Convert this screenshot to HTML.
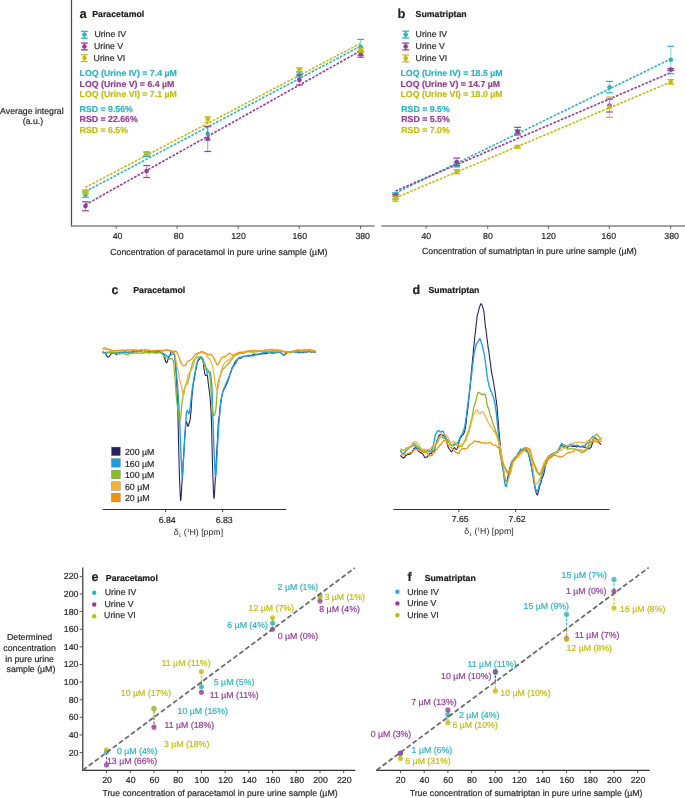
<!DOCTYPE html>
<html><head><meta charset="utf-8"><title>Figure</title>
<style>
html,body{margin:0;padding:0;background:#fff;}
body{width:685px;height:798px;overflow:hidden;}
svg{display:block;filter:blur(0.3px);}
text{font-family:"Liberation Sans", sans-serif;text-rendering:geometricPrecision;}
</style></head>
<body>
<svg width="685" height="798" viewBox="0 0 685 798">
<rect width="685" height="798" fill="#fff"/>
<line x1="71.50" y1="0.00" x2="71.50" y2="226.60" stroke="#4a4a4a" stroke-width="1.25"/>
<line x1="71.00" y1="226.00" x2="374.60" y2="226.00" stroke="#858585" stroke-width="1.45"/>
<line x1="116.20" y1="226.00" x2="116.20" y2="228.80" stroke="#5a5a5a" stroke-width="1.0"/>
<text x="117.60" y="239.00" font-size="8.75" fill="#2a2a2a" text-anchor="middle" stroke="#2a2a2a" stroke-width="0.2">40</text>
<line x1="177.10" y1="226.00" x2="177.10" y2="228.80" stroke="#5a5a5a" stroke-width="1.0"/>
<text x="178.70" y="239.00" font-size="8.75" fill="#2a2a2a" text-anchor="middle" stroke="#2a2a2a" stroke-width="0.2">80</text>
<line x1="238.20" y1="226.00" x2="238.20" y2="228.80" stroke="#5a5a5a" stroke-width="1.0"/>
<text x="238.50" y="239.00" font-size="8.75" fill="#2a2a2a" text-anchor="middle" stroke="#2a2a2a" stroke-width="0.2">120</text>
<line x1="299.20" y1="226.00" x2="299.20" y2="228.80" stroke="#5a5a5a" stroke-width="1.0"/>
<text x="299.80" y="239.00" font-size="8.75" fill="#2a2a2a" text-anchor="middle" stroke="#2a2a2a" stroke-width="0.2">160</text>
<line x1="360.60" y1="226.00" x2="360.60" y2="228.80" stroke="#5a5a5a" stroke-width="1.0"/>
<text x="362.70" y="239.00" font-size="8.75" fill="#2a2a2a" text-anchor="middle" stroke="#2a2a2a" stroke-width="0.2">380</text>
<text x="218.80" y="254.80" font-size="8.75" fill="#2a2a2a" text-anchor="middle" stroke="#2a2a2a" stroke-width="0.2">Concentration of paracetamol in pure urine sample (µM)</text>
<text x="31.90" y="113.50" font-size="8.75" fill="#2a2a2a" text-anchor="middle" stroke="#2a2a2a" stroke-width="0.2">Average integral</text>
<text x="33.00" y="123.90" font-size="8.75" fill="#2a2a2a" text-anchor="middle" stroke="#2a2a2a" stroke-width="0.2">(a.u.)</text>
<text x="79.40" y="18.00" font-size="13" fill="#222" font-weight="bold" stroke="#222" stroke-width="0.1">a</text>
<text x="92.20" y="16.90" font-size="8.75" fill="#222" font-weight="bold" stroke="#222" stroke-width="0.2">Paracetamol</text>
<line x1="81.00" y1="31.40" x2="87.80" y2="31.40" stroke="#2fb4bf" stroke-width="1.3"/>
<line x1="81.00" y1="38.20" x2="87.80" y2="38.20" stroke="#2fb4bf" stroke-width="1.3"/>
<line x1="84.40" y1="31.40" x2="84.40" y2="38.20" stroke="#2fb4bf" stroke-width="1.0"/>
<circle cx="84.40" cy="34.80" r="2.3" fill="#2fb4bf"/>
<text x="94.40" y="36.70" font-size="8.75" fill="#2a2a2a" stroke="#2a2a2a" stroke-width="0.2">Urine IV</text>
<line x1="81.00" y1="43.05" x2="87.80" y2="43.05" stroke="#983c98" stroke-width="1.3"/>
<line x1="81.00" y1="49.85" x2="87.80" y2="49.85" stroke="#983c98" stroke-width="1.3"/>
<line x1="84.40" y1="43.05" x2="84.40" y2="49.85" stroke="#983c98" stroke-width="1.0"/>
<circle cx="84.40" cy="46.45" r="2.3" fill="#983c98"/>
<text x="94.00" y="49.00" font-size="8.75" fill="#2a2a2a" stroke="#2a2a2a" stroke-width="0.2">Urine V</text>
<line x1="81.00" y1="54.70" x2="87.80" y2="54.70" stroke="#c3bd12" stroke-width="1.3"/>
<line x1="81.00" y1="61.50" x2="87.80" y2="61.50" stroke="#c3bd12" stroke-width="1.3"/>
<line x1="84.40" y1="54.70" x2="84.40" y2="61.50" stroke="#c3bd12" stroke-width="1.0"/>
<circle cx="84.40" cy="58.10" r="2.3" fill="#c3bd12"/>
<text x="93.60" y="60.90" font-size="8.75" fill="#2a2a2a" stroke="#2a2a2a" stroke-width="0.2">Urine VI</text>
<text x="79.60" y="76.30" font-size="8.75" fill="#2fb4bf" font-weight="bold" stroke="#2fb4bf" stroke-width="0.2">LOQ (Urine IV) = 7.4 µM</text>
<text x="79.60" y="86.55" font-size="8.75" fill="#983c98" font-weight="bold" stroke="#983c98" stroke-width="0.2">LOQ (Urine V) = 6.4 µM</text>
<text x="79.60" y="96.80" font-size="8.75" fill="#c3bd12" font-weight="bold" stroke="#c3bd12" stroke-width="0.2">LOQ (Urine VI) = 7.1 µM</text>
<text x="79.60" y="112.10" font-size="8.75" fill="#2fb4bf" font-weight="bold" stroke="#2fb4bf" stroke-width="0.2">RSD = 9.56%</text>
<text x="79.60" y="122.35" font-size="8.75" fill="#983c98" font-weight="bold" stroke="#983c98" stroke-width="0.2">RSD = 22.66%</text>
<text x="79.60" y="132.60" font-size="8.75" fill="#c3bd12" font-weight="bold" stroke="#c3bd12" stroke-width="0.2">RSD = 6.5%</text>
<line x1="85.30" y1="187.40" x2="360.40" y2="43.50" stroke="#c3bd12" stroke-width="1.6" stroke-dasharray="2.6 1.4"/>
<line x1="85.30" y1="191.60" x2="359.60" y2="46.70" stroke="#2fb4bf" stroke-width="1.6" stroke-dasharray="2.6 1.4"/>
<line x1="85.30" y1="204.80" x2="358.80" y2="51.80" stroke="#983c98" stroke-width="1.6" stroke-dasharray="2.6 1.4"/>
<line x1="85.50" y1="192.00" x2="85.50" y2="197.20" stroke="#2fb4bf" stroke-width="1.1" stroke-opacity="0.55"/>
<line x1="82.10" y1="192.00" x2="88.90" y2="192.00" stroke="#2fb4bf" stroke-width="1.2"/>
<line x1="82.10" y1="197.20" x2="88.90" y2="197.20" stroke="#2fb4bf" stroke-width="1.2"/>
<circle cx="85.50" cy="194.70" r="2.3" fill="#2fb4bf"/>
<line x1="85.50" y1="201.80" x2="85.50" y2="210.80" stroke="#983c98" stroke-width="1.1" stroke-opacity="0.55"/>
<line x1="82.10" y1="201.80" x2="88.90" y2="201.80" stroke="#983c98" stroke-width="1.2"/>
<line x1="82.10" y1="210.80" x2="88.90" y2="210.80" stroke="#983c98" stroke-width="1.2"/>
<circle cx="85.50" cy="206.10" r="2.3" fill="#983c98"/>
<line x1="85.50" y1="190.20" x2="85.50" y2="194.00" stroke="#c3bd12" stroke-width="1.1" stroke-opacity="0.55"/>
<line x1="82.10" y1="190.20" x2="88.90" y2="190.20" stroke="#c3bd12" stroke-width="1.2"/>
<line x1="82.10" y1="194.00" x2="88.90" y2="194.00" stroke="#c3bd12" stroke-width="1.2"/>
<circle cx="85.50" cy="191.40" r="2.3" fill="#c3bd12"/>
<line x1="146.60" y1="152.20" x2="146.60" y2="156.40" stroke="#2fb4bf" stroke-width="1.1" stroke-opacity="0.55"/>
<line x1="143.20" y1="152.20" x2="150.00" y2="152.20" stroke="#2fb4bf" stroke-width="1.2"/>
<line x1="143.20" y1="156.40" x2="150.00" y2="156.40" stroke="#2fb4bf" stroke-width="1.2"/>
<circle cx="146.60" cy="154.50" r="2.3" fill="#2fb4bf"/>
<line x1="146.60" y1="165.50" x2="146.60" y2="177.50" stroke="#983c98" stroke-width="1.1" stroke-opacity="0.55"/>
<line x1="143.20" y1="165.50" x2="150.00" y2="165.50" stroke="#983c98" stroke-width="1.2"/>
<line x1="143.20" y1="177.50" x2="150.00" y2="177.50" stroke="#983c98" stroke-width="1.2"/>
<circle cx="146.60" cy="171.10" r="2.3" fill="#983c98"/>
<line x1="146.60" y1="151.70" x2="146.60" y2="155.30" stroke="#c3bd12" stroke-width="1.1" stroke-opacity="0.55"/>
<line x1="143.20" y1="151.70" x2="150.00" y2="151.70" stroke="#c3bd12" stroke-width="1.2"/>
<line x1="143.20" y1="155.30" x2="150.00" y2="155.30" stroke="#c3bd12" stroke-width="1.2"/>
<circle cx="146.60" cy="153.60" r="2.3" fill="#c3bd12"/>
<line x1="207.70" y1="126.70" x2="207.70" y2="140.10" stroke="#2fb4bf" stroke-width="1.1" stroke-opacity="0.55"/>
<line x1="204.30" y1="126.70" x2="211.10" y2="126.70" stroke="#2fb4bf" stroke-width="1.2"/>
<line x1="204.30" y1="140.10" x2="211.10" y2="140.10" stroke="#2fb4bf" stroke-width="1.2"/>
<circle cx="207.70" cy="133.70" r="2.3" fill="#2fb4bf"/>
<line x1="207.70" y1="126.40" x2="207.70" y2="151.50" stroke="#983c98" stroke-width="1.1" stroke-opacity="0.55"/>
<line x1="204.30" y1="126.40" x2="211.10" y2="126.40" stroke="#983c98" stroke-width="1.2"/>
<line x1="204.30" y1="151.50" x2="211.10" y2="151.50" stroke="#983c98" stroke-width="1.2"/>
<circle cx="207.70" cy="138.80" r="2.3" fill="#983c98"/>
<line x1="207.70" y1="116.80" x2="207.70" y2="122.30" stroke="#c3bd12" stroke-width="1.1" stroke-opacity="0.55"/>
<line x1="204.30" y1="116.80" x2="211.10" y2="116.80" stroke="#c3bd12" stroke-width="1.2"/>
<line x1="204.30" y1="122.30" x2="211.10" y2="122.30" stroke="#c3bd12" stroke-width="1.2"/>
<circle cx="207.70" cy="119.10" r="2.3" fill="#c3bd12"/>
<line x1="299.40" y1="72.00" x2="299.40" y2="77.00" stroke="#2fb4bf" stroke-width="1.1" stroke-opacity="0.55"/>
<line x1="296.00" y1="72.00" x2="302.80" y2="72.00" stroke="#2fb4bf" stroke-width="1.2"/>
<line x1="296.00" y1="77.00" x2="302.80" y2="77.00" stroke="#2fb4bf" stroke-width="1.2"/>
<circle cx="299.40" cy="74.50" r="2.3" fill="#2fb4bf"/>
<line x1="299.40" y1="75.00" x2="299.40" y2="85.00" stroke="#983c98" stroke-width="1.1" stroke-opacity="0.55"/>
<line x1="296.00" y1="75.00" x2="302.80" y2="75.00" stroke="#983c98" stroke-width="1.2"/>
<line x1="296.00" y1="85.00" x2="302.80" y2="85.00" stroke="#983c98" stroke-width="1.2"/>
<circle cx="299.40" cy="79.90" r="2.3" fill="#983c98"/>
<line x1="299.40" y1="67.90" x2="299.40" y2="71.60" stroke="#c3bd12" stroke-width="1.1" stroke-opacity="0.55"/>
<line x1="296.00" y1="67.90" x2="302.80" y2="67.90" stroke="#c3bd12" stroke-width="1.2"/>
<line x1="296.00" y1="71.60" x2="302.80" y2="71.60" stroke="#c3bd12" stroke-width="1.2"/>
<circle cx="299.40" cy="69.60" r="2.3" fill="#c3bd12"/>
<line x1="360.70" y1="39.40" x2="360.70" y2="55.40" stroke="#2fb4bf" stroke-width="1.1" stroke-opacity="0.55"/>
<line x1="357.30" y1="39.40" x2="364.10" y2="39.40" stroke="#2fb4bf" stroke-width="1.2"/>
<line x1="357.30" y1="55.40" x2="364.10" y2="55.40" stroke="#2fb4bf" stroke-width="1.2"/>
<circle cx="360.70" cy="47.00" r="2.3" fill="#2fb4bf"/>
<line x1="360.70" y1="51.20" x2="360.70" y2="57.20" stroke="#983c98" stroke-width="1.1" stroke-opacity="0.55"/>
<line x1="357.30" y1="51.20" x2="364.10" y2="51.20" stroke="#983c98" stroke-width="1.2"/>
<line x1="357.30" y1="57.20" x2="364.10" y2="57.20" stroke="#983c98" stroke-width="1.2"/>
<circle cx="360.70" cy="54.30" r="2.3" fill="#983c98"/>
<line x1="360.70" y1="48.00" x2="360.70" y2="52.20" stroke="#c3bd12" stroke-width="1.1" stroke-opacity="0.55"/>
<line x1="357.30" y1="48.00" x2="364.10" y2="48.00" stroke="#c3bd12" stroke-width="1.2"/>
<line x1="357.30" y1="52.20" x2="364.10" y2="52.20" stroke="#c3bd12" stroke-width="1.2"/>
<circle cx="360.70" cy="49.90" r="2.3" fill="#c3bd12"/>
<line x1="381.40" y1="226.00" x2="685.00" y2="226.00" stroke="#858585" stroke-width="1.45"/>
<line x1="426.10" y1="226.00" x2="426.10" y2="228.80" stroke="#5a5a5a" stroke-width="1.0"/>
<text x="426.30" y="238.90" font-size="8.75" fill="#2a2a2a" text-anchor="middle" stroke="#2a2a2a" stroke-width="0.2">40</text>
<line x1="487.70" y1="226.00" x2="487.70" y2="228.80" stroke="#5a5a5a" stroke-width="1.0"/>
<text x="487.90" y="238.90" font-size="8.75" fill="#2a2a2a" text-anchor="middle" stroke="#2a2a2a" stroke-width="0.2">80</text>
<line x1="548.40" y1="226.00" x2="548.40" y2="228.80" stroke="#5a5a5a" stroke-width="1.0"/>
<text x="548.60" y="238.90" font-size="8.75" fill="#2a2a2a" text-anchor="middle" stroke="#2a2a2a" stroke-width="0.2">120</text>
<line x1="609.30" y1="226.00" x2="609.30" y2="228.80" stroke="#5a5a5a" stroke-width="1.0"/>
<text x="608.80" y="238.90" font-size="8.75" fill="#2a2a2a" text-anchor="middle" stroke="#2a2a2a" stroke-width="0.2">160</text>
<line x1="670.70" y1="226.00" x2="670.70" y2="228.80" stroke="#5a5a5a" stroke-width="1.0"/>
<text x="671.60" y="238.90" font-size="8.75" fill="#2a2a2a" text-anchor="middle" stroke="#2a2a2a" stroke-width="0.2">380</text>
<text x="529.30" y="254.00" font-size="8.75" fill="#2a2a2a" text-anchor="middle" stroke="#2a2a2a" stroke-width="0.2">Concentration of sumatriptan in pure urine sample (µM)</text>
<text x="397.60" y="18.00" font-size="13" fill="#222" font-weight="bold" stroke="#222" stroke-width="0.1">b</text>
<text x="415.60" y="17.10" font-size="8.75" fill="#222" font-weight="bold" stroke="#222" stroke-width="0.2">Sumatriptan</text>
<line x1="402.30" y1="31.20" x2="409.10" y2="31.20" stroke="#2fb4bf" stroke-width="1.3"/>
<line x1="402.30" y1="38.00" x2="409.10" y2="38.00" stroke="#2fb4bf" stroke-width="1.3"/>
<line x1="405.70" y1="31.20" x2="405.70" y2="38.00" stroke="#2fb4bf" stroke-width="1.0"/>
<circle cx="405.70" cy="34.60" r="2.3" fill="#2fb4bf"/>
<text x="415.60" y="37.00" font-size="8.75" fill="#2a2a2a" stroke="#2a2a2a" stroke-width="0.2">Urine IV</text>
<line x1="402.30" y1="43.10" x2="409.10" y2="43.10" stroke="#983c98" stroke-width="1.3"/>
<line x1="402.30" y1="49.90" x2="409.10" y2="49.90" stroke="#983c98" stroke-width="1.3"/>
<line x1="405.70" y1="43.10" x2="405.70" y2="49.90" stroke="#983c98" stroke-width="1.0"/>
<circle cx="405.70" cy="46.50" r="2.3" fill="#983c98"/>
<text x="415.60" y="48.90" font-size="8.75" fill="#2a2a2a" stroke="#2a2a2a" stroke-width="0.2">Urine V</text>
<line x1="402.30" y1="55.00" x2="409.10" y2="55.00" stroke="#c3bd12" stroke-width="1.3"/>
<line x1="402.30" y1="61.80" x2="409.10" y2="61.80" stroke="#c3bd12" stroke-width="1.3"/>
<line x1="405.70" y1="55.00" x2="405.70" y2="61.80" stroke="#c3bd12" stroke-width="1.0"/>
<circle cx="405.70" cy="58.40" r="2.3" fill="#c3bd12"/>
<text x="415.60" y="60.80" font-size="8.75" fill="#2a2a2a" stroke="#2a2a2a" stroke-width="0.2">Urine VI</text>
<text x="400.50" y="76.30" font-size="8.75" fill="#2fb4bf" font-weight="bold" stroke="#2fb4bf" stroke-width="0.2">LOQ (Urine IV) = 18.5 µM</text>
<text x="400.50" y="86.55" font-size="8.75" fill="#983c98" font-weight="bold" stroke="#983c98" stroke-width="0.2">LOQ (Urine V) = 14.7 µM</text>
<text x="400.50" y="96.80" font-size="8.75" fill="#c3bd12" font-weight="bold" stroke="#c3bd12" stroke-width="0.2">LOQ (Urine VI) = 18.0 µM</text>
<text x="401.30" y="112.10" font-size="8.75" fill="#2fb4bf" font-weight="bold" stroke="#2fb4bf" stroke-width="0.2">RSD = 9.5%</text>
<text x="401.30" y="122.35" font-size="8.75" fill="#983c98" font-weight="bold" stroke="#983c98" stroke-width="0.2">RSD = 5.5%</text>
<text x="401.30" y="132.60" font-size="8.75" fill="#c3bd12" font-weight="bold" stroke="#c3bd12" stroke-width="0.2">RSD = 7.0%</text>
<line x1="395.50" y1="193.10" x2="670.80" y2="58.90" stroke="#2fb4bf" stroke-width="1.6" stroke-dasharray="2.6 1.4"/>
<line x1="395.50" y1="191.00" x2="670.80" y2="72.60" stroke="#983c98" stroke-width="1.6" stroke-dasharray="2.6 1.4"/>
<line x1="395.50" y1="197.80" x2="670.80" y2="82.00" stroke="#c3bd12" stroke-width="1.6" stroke-dasharray="2.6 1.4"/>
<line x1="395.50" y1="192.80" x2="395.50" y2="199.00" stroke="#2fb4bf" stroke-width="1.1" stroke-opacity="0.55"/>
<line x1="392.10" y1="192.80" x2="398.90" y2="192.80" stroke="#2fb4bf" stroke-width="1.2"/>
<line x1="392.10" y1="199.00" x2="398.90" y2="199.00" stroke="#2fb4bf" stroke-width="1.2"/>
<circle cx="395.50" cy="196.00" r="2.3" fill="#2fb4bf"/>
<line x1="395.50" y1="194.30" x2="395.50" y2="196.40" stroke="#983c98" stroke-width="1.1" stroke-opacity="0.55"/>
<line x1="392.10" y1="194.30" x2="398.90" y2="194.30" stroke="#983c98" stroke-width="1.2"/>
<line x1="392.10" y1="196.40" x2="398.90" y2="196.40" stroke="#983c98" stroke-width="1.2"/>
<circle cx="395.50" cy="195.30" r="2.3" fill="#983c98"/>
<line x1="395.50" y1="196.20" x2="395.50" y2="201.20" stroke="#c3bd12" stroke-width="1.1" stroke-opacity="0.55"/>
<line x1="392.10" y1="196.20" x2="398.90" y2="196.20" stroke="#c3bd12" stroke-width="1.2"/>
<line x1="392.10" y1="201.20" x2="398.90" y2="201.20" stroke="#c3bd12" stroke-width="1.2"/>
<circle cx="395.50" cy="198.70" r="2.3" fill="#c3bd12"/>
<line x1="456.70" y1="162.30" x2="456.70" y2="167.00" stroke="#2fb4bf" stroke-width="1.1" stroke-opacity="0.55"/>
<line x1="453.30" y1="162.30" x2="460.10" y2="162.30" stroke="#2fb4bf" stroke-width="1.2"/>
<line x1="453.30" y1="167.00" x2="460.10" y2="167.00" stroke="#2fb4bf" stroke-width="1.2"/>
<circle cx="456.70" cy="164.70" r="2.3" fill="#2fb4bf"/>
<line x1="456.70" y1="158.10" x2="456.70" y2="165.50" stroke="#983c98" stroke-width="1.1" stroke-opacity="0.55"/>
<line x1="453.30" y1="158.10" x2="460.10" y2="158.10" stroke="#983c98" stroke-width="1.2"/>
<line x1="453.30" y1="165.50" x2="460.10" y2="165.50" stroke="#983c98" stroke-width="1.2"/>
<circle cx="456.70" cy="162.00" r="2.3" fill="#983c98"/>
<line x1="456.70" y1="169.60" x2="456.70" y2="173.70" stroke="#c3bd12" stroke-width="1.1" stroke-opacity="0.55"/>
<line x1="453.30" y1="169.60" x2="460.10" y2="169.60" stroke="#c3bd12" stroke-width="1.2"/>
<line x1="453.30" y1="173.70" x2="460.10" y2="173.70" stroke="#c3bd12" stroke-width="1.2"/>
<circle cx="456.70" cy="171.50" r="2.3" fill="#c3bd12"/>
<line x1="517.60" y1="130.00" x2="517.60" y2="133.60" stroke="#2fb4bf" stroke-width="1.1" stroke-opacity="0.55"/>
<line x1="514.20" y1="130.00" x2="521.00" y2="130.00" stroke="#2fb4bf" stroke-width="1.2"/>
<line x1="514.20" y1="133.60" x2="521.00" y2="133.60" stroke="#2fb4bf" stroke-width="1.2"/>
<circle cx="517.60" cy="131.30" r="2.3" fill="#2fb4bf"/>
<line x1="517.60" y1="127.30" x2="517.60" y2="135.00" stroke="#983c98" stroke-width="1.1" stroke-opacity="0.55"/>
<line x1="514.20" y1="127.30" x2="521.00" y2="127.30" stroke="#983c98" stroke-width="1.2"/>
<line x1="514.20" y1="135.00" x2="521.00" y2="135.00" stroke="#983c98" stroke-width="1.2"/>
<circle cx="517.60" cy="131.80" r="2.3" fill="#983c98"/>
<line x1="517.60" y1="145.50" x2="517.60" y2="148.00" stroke="#c3bd12" stroke-width="1.1" stroke-opacity="0.55"/>
<line x1="514.20" y1="145.50" x2="521.00" y2="145.50" stroke="#c3bd12" stroke-width="1.2"/>
<line x1="514.20" y1="148.00" x2="521.00" y2="148.00" stroke="#c3bd12" stroke-width="1.2"/>
<circle cx="517.60" cy="146.70" r="2.3" fill="#c3bd12"/>
<line x1="609.50" y1="81.40" x2="609.50" y2="92.80" stroke="#2fb4bf" stroke-width="1.1" stroke-opacity="0.55"/>
<line x1="606.10" y1="81.40" x2="612.90" y2="81.40" stroke="#2fb4bf" stroke-width="1.2"/>
<line x1="606.10" y1="92.80" x2="612.90" y2="92.80" stroke="#2fb4bf" stroke-width="1.2"/>
<circle cx="609.50" cy="87.20" r="2.3" fill="#2fb4bf"/>
<line x1="609.50" y1="99.20" x2="609.50" y2="112.00" stroke="#983c98" stroke-width="1.1" stroke-opacity="0.55"/>
<line x1="606.10" y1="99.20" x2="612.90" y2="99.20" stroke="#983c98" stroke-width="1.2"/>
<line x1="606.10" y1="112.00" x2="612.90" y2="112.00" stroke="#983c98" stroke-width="1.2"/>
<circle cx="609.50" cy="105.60" r="2.3" fill="#983c98"/>
<line x1="609.50" y1="97.10" x2="609.50" y2="117.30" stroke="#c3bd12" stroke-width="1.1" stroke-opacity="0.55"/>
<line x1="606.10" y1="97.10" x2="612.90" y2="97.10" stroke="#c3bd12" stroke-width="1.2"/>
<line x1="606.10" y1="117.30" x2="612.90" y2="117.30" stroke="#c3bd12" stroke-width="1.2"/>
<circle cx="609.50" cy="107.10" r="2.3" fill="#c3bd12"/>
<line x1="670.80" y1="46.30" x2="670.80" y2="73.70" stroke="#2fb4bf" stroke-width="1.1" stroke-opacity="0.55"/>
<line x1="667.40" y1="46.30" x2="674.20" y2="46.30" stroke="#2fb4bf" stroke-width="1.2"/>
<line x1="667.40" y1="73.70" x2="674.20" y2="73.70" stroke="#2fb4bf" stroke-width="1.2"/>
<circle cx="670.80" cy="59.70" r="2.3" fill="#2fb4bf"/>
<line x1="670.80" y1="68.60" x2="670.80" y2="70.60" stroke="#983c98" stroke-width="1.1" stroke-opacity="0.55"/>
<line x1="667.40" y1="68.60" x2="674.20" y2="68.60" stroke="#983c98" stroke-width="1.2"/>
<line x1="667.40" y1="70.60" x2="674.20" y2="70.60" stroke="#983c98" stroke-width="1.2"/>
<circle cx="670.80" cy="69.60" r="2.3" fill="#983c98"/>
<line x1="670.80" y1="79.60" x2="670.80" y2="84.20" stroke="#c3bd12" stroke-width="1.1" stroke-opacity="0.55"/>
<line x1="667.40" y1="79.60" x2="674.20" y2="79.60" stroke="#c3bd12" stroke-width="1.2"/>
<line x1="667.40" y1="84.20" x2="674.20" y2="84.20" stroke="#c3bd12" stroke-width="1.2"/>
<circle cx="670.80" cy="82.00" r="2.3" fill="#c3bd12"/>
<path d="M102.60,352.24 L103.47,352.57 L104.50,352.81 L105.04,352.82 L105.49,353.87 L106.00,354.49 L106.70,355.79 L107.47,356.35 L108.20,357.27 L108.81,356.86 L109.38,356.41 L110.00,355.24 L110.61,354.59 L111.27,353.65 L112.00,352.94 L112.97,353.33 L114.03,353.16 L115.00,353.40 L115.72,353.85 L116.36,354.66 L117.00,354.14 L117.64,353.34 L118.28,353.29 L119.00,353.71 L119.92,352.42 L120.94,352.19 L122.00,352.35 L122.96,352.07 L123.96,351.93 L124.99,351.77 L126.00,352.19 L127.00,352.20 L128.00,352.38 L129.00,352.05 L130.00,352.53 L131.00,353.09 L132.00,352.89 L133.00,352.33 L134.00,351.63 L135.01,351.80 L136.04,351.80 L137.04,351.51 L138.00,350.61 L139.02,350.81 L139.98,350.94 L141.00,351.17 L141.95,351.76 L142.94,351.68 L143.95,351.98 L145.00,352.70 L145.96,352.25 L146.96,352.16 L147.97,352.29 L148.99,351.85 L150.00,351.30 L151.00,351.72 L152.00,352.26 L153.00,351.67 L154.00,351.92 L155.00,352.01 L156.03,352.67 L157.09,351.90 L158.14,351.94 L159.13,351.55 L160.00,351.64 L160.95,352.34 L161.77,352.89 L162.50,353.65 L163.09,354.33 L163.58,354.94 L164.03,356.73 L164.50,358.40 L164.91,359.17 L165.31,360.07 L165.71,361.65 L166.10,362.43 L166.50,362.66 L167.00,362.45 L167.50,360.94 L168.00,359.58 L168.40,358.88 L168.79,357.51 L169.18,356.68 L169.58,355.83 L170.00,355.09 L170.47,354.10 L170.96,352.31 L171.47,351.50 L172.00,351.31 L172.61,351.85 L173.24,352.64 L173.80,353.13 L174.08,353.60 L174.31,353.94 L174.51,354.86 L174.68,355.77 L174.83,356.64 L174.95,358.06 L175.06,359.91 L175.17,361.71 L175.27,362.84 L175.38,363.87 L175.50,365.15 L175.60,366.37 L175.70,367.44 L175.79,368.47 L175.88,369.32 L175.97,370.27 L176.05,372.23 L176.12,373.40 L176.20,373.88 L176.27,375.30 L176.34,376.06 L176.41,377.40 L176.47,378.42 L176.54,379.84 L176.60,380.89 L176.67,382.15 L176.73,383.70 L176.80,385.19 L176.85,385.46 L176.90,387.20 L176.95,387.43 L177.00,388.28 L177.05,389.60 L177.10,391.21 L177.14,392.39 L177.19,393.39 L177.23,395.03 L177.28,396.10 L177.32,397.18 L177.36,398.62 L177.40,399.39 L177.45,401.39 L177.49,402.70 L177.53,403.49 L177.57,404.49 L177.60,405.62 L177.64,406.99 L177.68,408.17 L177.72,408.91 L177.75,409.78 L177.79,411.57 L177.83,412.18 L177.86,413.25 L177.90,415.11 L177.93,415.66 L177.97,417.21 L178.00,418.76 L178.03,420.63 L178.06,421.78 L178.09,422.52 L178.11,423.00 L178.14,424.67 L178.17,426.07 L178.20,427.48 L178.22,428.78 L178.25,429.46 L178.27,430.23 L178.30,430.91 L178.32,432.36 L178.35,433.84 L178.37,434.65 L178.40,435.93 L178.42,437.45 L178.45,439.02 L178.48,439.58 L178.50,440.60 L178.53,441.42 L178.56,442.40 L178.58,444.13 L178.61,445.65 L178.64,446.51 L178.67,447.57 L178.70,448.55 L178.73,450.50 L178.76,451.23 L178.79,452.28 L178.82,453.22 L178.86,454.83 L178.89,455.85 L178.92,456.47 L178.95,458.13 L178.98,459.57 L179.01,460.79 L179.04,462.11 L179.08,463.45 L179.11,464.79 L179.14,466.35 L179.18,467.60 L179.21,468.94 L179.24,470.09 L179.28,471.19 L179.31,472.09 L179.35,473.17 L179.39,473.79 L179.42,475.50 L179.46,477.28 L179.50,477.96 L179.54,478.50 L179.58,479.73 L179.62,480.63 L179.66,482.01 L179.70,482.28 L179.76,484.45 L179.82,486.29 L179.88,487.66 L179.94,488.21 L180.01,489.85 L180.07,492.11 L180.14,493.48 L180.21,494.45 L180.28,495.88 L180.34,497.08 L180.41,497.66 L180.48,498.68 L180.56,499.77 L180.63,500.42 L180.70,500.73 L180.78,500.41 L180.86,499.49 L180.94,498.72 L181.03,498.46 L181.11,497.20 L181.20,495.88 L181.29,493.79 L181.37,492.72 L181.46,491.07 L181.55,489.98 L181.63,488.00 L181.72,486.42 L181.80,484.97 L181.87,483.68 L181.94,482.58 L182.01,481.63 L182.09,480.54 L182.16,479.55 L182.23,479.07 L182.30,477.79 L182.37,476.55 L182.44,474.89 L182.51,474.38 L182.58,472.63 L182.65,470.65 L182.72,469.87 L182.79,469.02 L182.86,467.57 L182.93,467.11 L183.00,465.27 L183.07,463.75 L183.15,462.92 L183.22,461.85 L183.29,460.80 L183.37,460.03 L183.44,458.82 L183.51,458.23 L183.59,456.34 L183.66,455.55 L183.73,455.18 L183.81,453.78 L183.88,452.74 L183.95,451.85 L184.03,450.43 L184.10,448.99 L184.17,446.86 L184.24,445.83 L184.31,445.40 L184.38,444.24 L184.45,442.75 L184.52,441.87 L184.58,440.79 L184.65,439.81 L184.72,438.53 L184.80,437.59 L184.87,436.14 L184.95,435.80 L185.03,434.67 L185.11,433.27 L185.20,432.42 L185.31,430.92 L185.42,429.47 L185.53,427.66 L185.64,426.11 L185.76,424.64 L185.89,423.40 L186.04,422.72 L186.21,421.82 L186.40,421.45 L186.75,422.35 L187.15,423.54 L187.58,425.26 L188.00,426.16 L188.35,425.98 L188.71,425.13 L189.07,423.06 L189.40,422.36 L189.70,421.56 L189.91,420.42 L190.10,419.88 L190.26,418.74 L190.40,417.31 L190.53,416.17 L190.65,415.16 L190.78,413.80 L190.90,412.50 L190.99,411.94 L191.07,411.46 L191.15,409.92 L191.21,408.51 L191.28,408.05 L191.34,406.56 L191.40,405.22 L191.46,403.96 L191.52,402.88 L191.59,401.79 L191.65,400.75 L191.73,399.94 L191.81,398.78 L191.90,397.72 L192.00,395.75 L192.11,394.86 L192.23,394.51 L192.36,392.67 L192.49,391.87 L192.63,390.11 L192.77,388.71 L192.92,387.37 L193.06,385.71 L193.22,384.83 L193.37,383.59 L193.53,383.18 L193.68,381.66 L193.84,380.11 L194.00,380.17 L194.19,378.82 L194.37,377.70 L194.57,377.34 L194.76,375.64 L194.96,373.84 L195.16,372.81 L195.36,371.85 L195.57,370.76 L195.78,370.00 L196.00,368.52 L196.26,367.87 L196.50,366.47 L196.74,365.14 L196.99,364.58 L197.28,362.55 L197.61,361.46 L198.00,361.27 L198.56,360.26 L199.20,359.36 L199.86,358.37 L200.50,358.38 L201.21,358.71 L201.90,358.97 L202.50,359.57 L202.81,360.25 L203.06,361.43 L203.25,362.46 L203.41,362.88 L203.54,364.36 L203.67,366.08 L203.82,367.77 L204.00,368.90 L204.22,369.69 L204.43,371.23 L204.64,373.13 L204.87,373.94 L205.15,375.03 L205.50,375.36 L206.15,375.16 L206.80,374.81 L207.09,374.88 L207.33,375.94 L207.54,376.88 L207.72,377.84 L207.89,379.45 L208.04,381.26 L208.19,382.27 L208.34,383.37 L208.50,385.07 L208.65,385.80 L208.80,387.09 L208.95,388.61 L209.09,389.38 L209.23,390.40 L209.37,391.27 L209.50,392.48 L209.63,393.07 L209.76,393.83 L209.88,395.26 L210.00,395.82 L210.09,397.78 L210.19,399.43 L210.27,400.30 L210.36,400.98 L210.44,401.88 L210.52,403.11 L210.60,404.10 L210.67,405.69 L210.74,406.42 L210.81,407.84 L210.88,408.80 L210.95,409.48 L211.01,411.27 L211.08,412.78 L211.14,413.91 L211.20,415.02 L211.24,416.01 L211.29,416.96 L211.33,417.73 L211.37,419.10 L211.41,420.35 L211.44,421.44 L211.48,422.40 L211.51,423.35 L211.54,424.44 L211.57,425.76 L211.61,426.45 L211.63,427.44 L211.66,429.08 L211.69,430.20 L211.72,432.02 L211.75,433.17 L211.77,434.38 L211.80,436.03 L211.82,437.47 L211.85,438.43 L211.88,439.43 L211.90,441.06 L211.93,441.68 L211.96,442.50 L211.98,443.79 L212.01,444.64 L212.04,445.81 L212.07,447.48 L212.10,449.10 L212.13,450.14 L212.17,451.34 L212.20,452.19 L212.23,453.89 L212.26,455.05 L212.29,455.85 L212.32,457.14 L212.35,458.49 L212.38,459.92 L212.41,461.56 L212.44,462.64 L212.47,462.97 L212.50,464.20 L212.53,465.89 L212.56,466.52 L212.60,468.04 L212.63,468.45 L212.66,470.47 L212.70,471.20 L212.74,472.70 L212.78,473.57 L212.82,475.47 L212.86,476.26 L212.90,477.46 L212.95,477.92 L213.00,479.47 L213.06,480.57 L213.11,481.54 L213.17,483.49 L213.23,485.24 L213.29,487.50 L213.35,489.16 L213.41,490.35 L213.48,491.87 L213.54,493.32 L213.60,493.96 L213.67,495.26 L213.73,496.18 L213.80,497.16 L213.87,497.83 L213.93,498.31 L214.00,498.40 L214.08,498.26 L214.16,497.79 L214.25,497.26 L214.33,495.78 L214.42,494.35 L214.50,493.35 L214.59,491.80 L214.68,490.48 L214.76,488.61 L214.85,486.61 L214.94,485.10 L215.02,483.55 L215.10,482.27 L215.17,481.50 L215.23,479.97 L215.30,478.70 L215.36,477.70 L215.42,476.69 L215.49,476.02 L215.55,474.70 L215.61,472.92 L215.67,472.51 L215.73,471.14 L215.80,470.16 L215.86,468.74 L215.92,467.22 L215.98,467.21 L216.04,465.06 L216.11,463.95 L216.17,462.71 L216.23,461.23 L216.30,460.31 L216.37,459.25 L216.43,457.89 L216.50,456.69 L216.57,455.25 L216.64,453.59 L216.71,452.08 L216.78,451.32 L216.85,450.10 L216.92,449.34 L216.99,447.79 L217.06,447.10 L217.13,445.31 L217.20,444.36 L217.27,442.77 L217.34,441.68 L217.41,441.29 L217.47,440.17 L217.54,439.01 L217.60,437.70 L217.67,436.41 L217.73,434.71 L217.79,433.67 L217.85,432.50 L217.91,431.80 L217.97,430.56 L218.03,429.11 L218.08,427.91 L218.14,426.84 L218.21,425.59 L218.27,425.10 L218.34,423.52 L218.42,422.51 L218.50,421.01 L218.63,419.97 L218.77,419.56 L218.92,419.02 L219.07,417.77 L219.23,416.52 L219.40,415.26 L219.53,414.12 L219.66,412.84 L219.79,411.15 L219.93,409.52 L220.07,408.33 L220.21,407.42 L220.36,406.50 L220.51,404.82 L220.67,403.82 L220.83,402.86 L221.00,402.40 L221.17,401.01 L221.33,399.26 L221.50,398.35 L221.66,397.26 L221.84,396.42 L222.02,395.54 L222.23,394.33 L222.46,392.99 L222.71,391.90 L223.00,391.11 L223.44,390.25 L223.94,389.67 L224.47,388.30 L225.01,387.54 L225.53,386.96 L226.00,385.28 L226.44,384.02 L226.83,383.49 L227.21,382.54 L227.59,381.62 L228.00,380.42 L228.35,379.97 L228.73,378.59 L229.12,377.24 L229.51,375.68 L229.90,374.38 L230.29,373.23 L230.66,372.67 L231.00,371.73 L231.35,371.55 L231.66,369.66 L231.96,368.49 L232.27,367.53 L232.61,367.04 L233.00,366.16 L233.53,365.50 L234.12,364.24 L234.74,362.50 L235.38,361.34 L236.00,360.96 L236.66,360.14 L237.32,359.78 L238.00,358.85 L238.97,358.51 L240.00,358.19 L240.95,358.11 L241.97,357.17 L243.00,356.19 L243.97,356.47 L244.96,356.53 L246.00,356.51 L246.95,356.10 L247.94,355.64 L248.96,355.36 L250.00,355.48 L250.97,355.64 L251.96,354.88 L252.97,354.67 L253.99,354.34 L255.00,354.31 L256.00,354.41 L257.00,354.42 L258.00,354.20 L259.00,354.31 L260.00,354.46 L261.00,353.55 L262.00,353.99 L263.00,353.46 L264.00,353.61 L265.00,353.49 L266.00,353.77 L267.00,352.90 L268.00,353.18 L269.00,352.83 L270.00,352.25 L271.00,352.93 L272.00,353.15 L273.00,353.26 L274.00,352.81 L275.00,352.63 L276.04,352.66 L277.12,352.05 L278.18,352.25 L279.16,351.89 L280.00,352.02 L280.76,352.62 L281.37,353.20 L282.00,353.68 L283.00,354.66 L284.00,355.42 L284.64,354.82 L285.27,354.37 L286.00,353.66 L286.88,353.08 L287.87,352.47 L288.93,352.34 L290.00,352.51 L290.96,351.77 L291.96,351.44 L292.97,351.25 L293.99,351.58 L295.00,352.01 L296.00,351.97 L297.00,351.69 L298.00,352.64 L299.00,352.70 L300.00,352.69 L301.00,352.36 L302.00,351.97 L303.00,352.41 L304.00,351.95 L305.00,351.82 L305.99,352.29 L306.98,351.50 L307.98,351.64 L308.98,351.57 L310.00,351.65 L311.23,352.27 L312.57,351.83 L313.88,352.19 L315.00,352.53 L315.80,352.86" fill="none" stroke="#26235f" stroke-width="1.1" stroke-linejoin="round"/>
<path d="M102.60,351.30 L103.21,351.57 L104.08,352.85 L105.00,352.69 L105.95,352.19 L106.95,352.46 L108.00,352.49 L108.94,352.64 L109.91,352.26 L110.93,352.63 L112.00,352.51 L112.92,353.14 L113.89,352.79 L114.89,352.50 L115.92,352.76 L116.96,352.74 L118.00,352.16 L119.15,352.45 L120.34,352.15 L121.54,352.72 L122.73,352.44 L123.90,352.64 L125.00,352.32 L126.05,352.48 L127.06,352.88 L128.04,352.94 L129.01,352.28 L130.00,351.62 L131.01,351.95 L132.03,351.60 L133.04,351.32 L134.04,351.65 L135.00,351.09 L136.06,351.48 L137.10,351.77 L138.09,351.47 L139.00,350.82 L139.92,350.28 L140.76,350.23 L141.50,349.82 L142.20,350.76 L143.00,351.37 L143.78,351.58 L144.72,351.78 L145.78,351.92 L146.89,352.10 L148.00,352.43 L149.11,352.73 L150.29,352.39 L151.50,351.89 L152.71,351.69 L153.89,351.48 L155.00,351.01 L156.06,351.52 L157.09,351.58 L158.09,352.58 L159.05,352.35 L160.00,352.00 L161.06,352.56 L162.11,352.82 L163.10,353.42 L164.00,353.72 L164.93,354.89 L165.76,355.01 L166.50,355.70 L167.24,356.38 L168.00,356.81 L168.66,356.11 L169.41,356.07 L170.21,354.88 L171.00,354.78 L172.04,354.47 L173.09,354.12 L174.00,353.54 L174.37,354.43 L174.68,354.81 L174.92,355.90 L175.12,356.79 L175.27,358.72 L175.40,359.54 L175.50,360.79 L175.58,362.34 L175.67,363.26 L175.76,364.77 L175.87,366.33 L176.00,367.94 L176.11,368.88 L176.22,370.65 L176.33,372.18 L176.44,373.28 L176.54,373.97 L176.64,375.11 L176.74,376.80 L176.84,378.15 L176.93,379.06 L177.03,379.68 L177.12,381.18 L177.22,382.43 L177.31,383.44 L177.40,384.48 L177.48,385.19 L177.57,386.09 L177.66,387.22 L177.75,388.96 L177.83,390.44 L177.92,391.48 L178.00,392.76 L178.08,394.50 L178.15,395.05 L178.23,396.13 L178.30,396.96 L178.38,399.06 L178.45,399.89 L178.52,401.51 L178.59,402.68 L178.66,403.34 L178.73,404.68 L178.80,405.78 L178.86,407.01 L178.93,408.10 L179.00,409.38 L179.06,410.59 L179.12,411.30 L179.19,412.75 L179.25,413.52 L179.31,414.29 L179.37,415.55 L179.43,416.59 L179.49,417.76 L179.54,418.78 L179.60,420.54 L179.66,422.05 L179.71,422.89 L179.76,424.57 L179.81,425.54 L179.86,426.37 L179.91,427.27 L179.95,428.81 L180.00,430.02 L180.04,431.34 L180.09,433.56 L180.13,434.61 L180.17,435.36 L180.22,435.96 L180.26,437.06 L180.30,438.09 L180.34,439.22 L180.38,439.74 L180.43,441.44 L180.47,442.45 L180.51,444.69 L180.56,445.57 L180.61,446.98 L180.65,448.04 L180.70,448.73 L180.76,450.11 L180.81,451.23 L180.87,452.46 L180.92,453.85 L180.98,454.53 L181.04,456.69 L181.09,458.16 L181.15,459.30 L181.21,461.05 L181.27,461.72 L181.33,462.09 L181.39,463.81 L181.44,464.86 L181.50,466.21 L181.56,467.24 L181.62,468.36 L181.68,469.12 L181.74,470.24 L181.80,471.49 L181.90,472.98 L182.00,474.92 L182.10,476.12 L182.20,477.07 L182.30,477.66 L182.40,477.98 L182.47,477.60 L182.54,476.65 L182.61,475.77 L182.69,474.51 L182.76,473.79 L182.83,472.88 L182.91,471.83 L182.98,470.78 L183.06,468.92 L183.13,466.58 L183.21,465.10 L183.28,463.84 L183.35,461.83 L183.43,460.37 L183.50,459.08 L183.56,459.08 L183.63,458.22 L183.69,456.58 L183.75,455.21 L183.82,454.12 L183.88,453.03 L183.94,451.86 L184.00,450.18 L184.06,448.77 L184.13,448.28 L184.19,446.97 L184.25,446.08 L184.31,444.68 L184.38,443.48 L184.44,442.30 L184.50,440.95 L184.57,440.23 L184.63,439.21 L184.70,437.86 L184.78,436.57 L184.85,435.83 L184.93,433.99 L185.01,433.08 L185.09,432.16 L185.17,431.31 L185.25,430.28 L185.33,428.42 L185.41,427.48 L185.49,426.07 L185.57,425.24 L185.65,424.09 L185.72,423.26 L185.80,421.81 L185.88,420.64 L185.95,419.55 L186.02,418.40 L186.08,417.37 L186.14,416.63 L186.22,414.80 L186.32,413.75 L186.45,412.23 L186.60,411.94 L187.01,411.18 L187.50,410.36 L187.98,411.41 L188.52,413.31 L189.00,413.74 L189.27,413.42 L189.51,412.65 L189.73,410.92 L189.93,409.05 L190.12,407.57 L190.31,405.91 L190.50,404.95 L190.64,403.14 L190.77,401.71 L190.90,400.46 L191.02,399.96 L191.13,398.97 L191.25,397.89 L191.36,396.68 L191.48,395.42 L191.60,394.07 L191.72,393.15 L191.86,391.97 L192.00,390.99 L192.16,389.75 L192.33,388.58 L192.50,387.38 L192.68,386.89 L192.86,386.08 L193.04,384.78 L193.23,382.47 L193.42,381.55 L193.61,380.82 L193.81,379.59 L194.00,377.72 L194.21,376.55 L194.42,376.44 L194.64,374.88 L194.86,373.07 L195.08,372.03 L195.31,371.40 L195.54,370.25 L195.77,368.70 L196.00,367.02 L196.26,366.29 L196.51,364.63 L196.77,364.10 L197.03,363.37 L197.31,362.21 L197.63,361.03 L198.00,360.04 L198.59,358.85 L199.25,357.75 L200.00,356.98 L200.83,356.61 L201.73,357.42 L202.50,358.25 L203.03,358.72 L203.39,359.96 L203.68,361.00 L204.00,362.11 L204.51,363.52 L205.00,364.65 L205.26,365.54 L205.52,366.47 L205.77,367.57 L206.02,368.13 L206.26,369.40 L206.50,369.57 L206.78,371.08 L207.06,372.41 L207.50,373.17 L208.49,371.89 L209.50,372.01 L209.89,371.98 L210.19,372.09 L210.43,373.60 L210.63,375.08 L210.81,375.95 L211.00,377.65 L211.14,378.67 L211.27,379.72 L211.38,380.33 L211.48,381.89 L211.57,383.00 L211.65,384.01 L211.72,384.76 L211.80,385.87 L211.86,387.18 L211.93,387.90 L212.00,389.22 L212.06,391.05 L212.10,392.06 L212.15,393.15 L212.19,394.13 L212.23,395.63 L212.26,397.04 L212.29,398.09 L212.32,398.97 L212.35,400.40 L212.38,401.82 L212.41,402.77 L212.43,404.09 L212.46,405.39 L212.49,406.78 L212.53,407.85 L212.56,408.73 L212.60,410.04 L212.64,411.02 L212.68,412.19 L212.71,413.88 L212.75,415.11 L212.79,416.01 L212.83,417.15 L212.87,418.37 L212.91,419.52 L212.95,420.39 L213.00,421.39 L213.04,421.87 L213.08,423.44 L213.13,425.53 L213.17,426.27 L213.22,428.04 L213.26,428.74 L213.31,429.81 L213.35,431.53 L213.40,432.28 L213.45,433.43 L213.50,435.26 L213.54,436.16 L213.58,437.55 L213.63,439.47 L213.67,439.84 L213.71,441.40 L213.76,443.07 L213.80,443.90 L213.85,444.91 L213.89,446.40 L213.94,447.76 L213.99,449.41 L214.03,449.91 L214.08,451.23 L214.13,452.93 L214.18,454.28 L214.22,455.27 L214.27,456.77 L214.32,458.08 L214.37,458.82 L214.42,459.41 L214.47,460.92 L214.53,462.16 L214.58,463.44 L214.63,464.67 L214.68,465.31 L214.74,466.16 L214.79,467.63 L214.84,468.13 L214.90,468.55 L215.01,469.89 L215.12,471.86 L215.24,474.03 L215.36,475.40 L215.47,475.54 L215.59,476.27 L215.70,476.29 L215.78,476.54 L215.86,476.11 L215.94,475.26 L216.02,474.07 L216.10,473.51 L216.18,471.56 L216.26,470.17 L216.34,468.43 L216.42,467.50 L216.49,466.42 L216.57,464.79 L216.65,463.41 L216.72,461.71 L216.80,459.71 L216.87,458.80 L216.93,458.43 L216.99,456.83 L217.06,455.90 L217.12,454.01 L217.18,453.14 L217.25,452.39 L217.31,451.06 L217.37,449.03 L217.43,448.04 L217.49,446.59 L217.56,445.89 L217.62,444.75 L217.68,443.44 L217.74,442.32 L217.81,440.70 L217.87,439.59 L217.94,438.84 L218.00,437.81 L218.07,437.15 L218.14,435.83 L218.22,435.14 L218.29,433.05 L218.37,431.60 L218.44,430.39 L218.51,428.63 L218.59,427.74 L218.66,426.47 L218.74,425.38 L218.81,424.27 L218.88,423.44 L218.96,422.76 L219.03,421.55 L219.10,420.91 L219.22,418.97 L219.34,417.80 L219.46,416.64 L219.58,416.09 L219.70,414.98 L219.77,413.82 L219.84,413.00 L219.89,411.95 L219.95,410.39 L220.01,409.93 L220.07,408.69 L220.13,407.76 L220.20,406.88 L220.29,406.29 L220.39,404.78 L220.50,403.32 L220.67,401.74 L220.85,400.51 L221.06,399.63 L221.27,398.44 L221.50,397.15 L221.75,395.66 L222.00,394.65 L222.25,394.22 L222.50,393.34 L222.77,392.28 L223.05,391.62 L223.35,390.67 L223.66,388.95 L224.00,388.39 L224.46,386.97 L224.96,386.30 L225.49,384.96 L226.01,383.89 L226.50,382.34 L226.87,381.53 L227.23,381.00 L227.58,380.14 L227.92,379.50 L228.26,378.32 L228.62,377.49 L229.00,376.54 L229.40,375.51 L229.81,374.60 L230.23,373.16 L230.66,372.60 L231.10,371.64 L231.54,369.52 L232.00,368.06 L232.58,367.59 L233.17,366.94 L233.78,365.72 L234.39,365.73 L235.00,364.30 L235.60,363.43 L236.20,362.60 L236.80,360.99 L237.40,359.47 L238.00,358.75 L238.62,357.97 L239.24,357.98 L240.00,357.05 L240.84,357.25 L241.82,357.67 L242.87,356.93 L243.95,356.34 L245.00,356.29 L245.99,356.13 L246.99,355.76 L248.00,355.42 L249.00,356.38 L250.00,355.88 L251.00,355.87 L252.00,355.89 L253.00,355.87 L254.00,355.62 L255.00,354.92 L256.00,354.92 L257.00,354.87 L258.00,354.11 L259.00,354.27 L260.00,353.38 L261.00,353.50 L262.00,353.02 L263.00,352.71 L264.00,353.06 L265.00,352.42 L266.00,352.59 L267.00,352.76 L268.00,352.02 L269.00,351.96 L270.00,352.35 L271.00,351.96 L272.00,351.99 L273.00,352.29 L274.00,352.40 L275.00,352.74 L276.04,352.16 L277.13,352.70 L278.19,352.52 L279.17,352.13 L280.00,351.71 L280.77,352.72 L281.37,353.43 L282.00,353.85 L283.00,354.97 L284.00,355.50 L284.64,355.16 L285.25,353.67 L286.00,352.65 L286.83,351.99 L287.77,352.02 L288.83,352.47 L290.00,352.60 L290.91,352.71 L291.91,351.81 L292.99,351.87 L294.13,351.63 L295.30,351.75 L296.50,351.98 L297.69,352.16 L298.86,351.42 L300.00,352.11 L301.13,351.84 L302.27,352.04 L303.43,351.25 L304.59,351.52 L305.74,351.63 L306.87,352.24 L307.96,351.24 L309.01,351.24 L310.00,350.88 L311.35,350.67 L312.71,351.60 L313.97,351.74 L315.04,352.00 L315.80,352.08" fill="none" stroke="#1a9fe0" stroke-width="1.35" stroke-linejoin="round"/>
<path d="M102.60,352.79 L103.47,353.21 L104.72,353.45 L106.00,353.80 L106.97,353.10 L107.95,352.64 L108.96,352.19 L110.00,351.97 L110.96,352.65 L111.96,352.80 L112.97,352.54 L113.99,352.48 L115.00,353.19 L116.00,352.81 L117.00,352.86 L118.00,353.29 L119.00,353.84 L120.00,354.20 L121.02,353.82 L122.06,353.40 L123.09,353.27 L124.08,353.77 L125.00,353.98 L126.04,354.47 L127.00,354.60 L128.00,354.68 L128.96,353.81 L129.96,353.10 L130.98,352.97 L132.00,353.04 L133.00,352.80 L134.00,353.55 L135.00,353.01 L136.00,353.24 L136.99,352.97 L137.97,353.18 L138.97,353.23 L140.00,352.95 L140.96,353.05 L141.96,353.44 L142.97,352.96 L143.99,352.70 L145.00,352.50 L146.00,352.68 L147.00,352.63 L148.00,352.39 L149.00,353.15 L150.00,352.89 L151.00,352.28 L152.00,352.84 L153.00,352.45 L154.00,352.81 L155.00,353.23 L156.02,352.75 L157.07,352.46 L158.11,353.19 L159.09,352.68 L160.00,352.71 L161.09,353.15 L162.08,353.68 L163.00,355.03 L163.86,355.76 L164.66,356.05 L165.50,357.61 L166.32,358.22 L167.17,358.36 L168.00,359.16 L169.00,359.19 L170.00,359.12 L170.85,358.62 L171.73,358.62 L172.50,359.56 L172.86,360.05 L173.15,360.45 L173.39,360.76 L173.59,362.14 L173.74,363.39 L173.87,365.00 L173.97,366.42 L174.07,367.93 L174.16,369.12 L174.25,370.54 L174.37,371.66 L174.50,373.14 L174.61,374.26 L174.72,375.38 L174.82,376.12 L174.92,377.47 L175.02,378.57 L175.11,379.42 L175.20,380.81 L175.29,382.37 L175.38,383.40 L175.47,385.26 L175.56,386.42 L175.64,387.88 L175.73,389.11 L175.82,389.50 L175.91,390.23 L176.00,391.98 L176.10,393.16 L176.19,394.29 L176.29,395.78 L176.39,397.03 L176.50,398.14 L176.63,399.01 L176.76,400.88 L176.90,401.21 L177.03,403.08 L177.17,404.12 L177.31,405.70 L177.45,406.83 L177.59,408.04 L177.73,409.59 L177.88,410.19 L178.03,410.45 L178.18,411.52 L178.34,411.90 L178.50,413.08 L178.74,414.51 L178.99,416.37 L179.25,417.54 L179.51,418.89 L179.76,419.12 L180.00,419.74 L180.15,419.60 L180.29,419.59 L180.43,419.61 L180.57,418.54 L180.70,417.42 L180.83,415.55 L180.95,413.93 L181.08,413.21 L181.20,410.89 L181.33,409.42 L181.45,408.20 L181.58,407.08 L181.72,405.36 L181.86,404.11 L182.00,403.19 L182.17,402.37 L182.34,400.95 L182.52,399.53 L182.69,398.75 L182.87,397.73 L183.05,396.14 L183.23,395.10 L183.42,393.91 L183.61,392.91 L183.80,391.34 L184.00,390.78 L184.27,389.69 L184.54,388.24 L184.82,387.48 L185.13,386.38 L185.50,385.50 L185.96,384.84 L186.49,385.09 L187.02,384.54 L187.50,383.00 L187.85,382.51 L188.16,381.16 L188.45,380.43 L188.71,379.24 L188.97,378.21 L189.23,376.98 L189.50,375.29 L189.75,373.85 L189.98,372.80 L190.21,371.72 L190.44,370.91 L190.68,370.40 L190.93,368.85 L191.20,368.15 L191.50,366.83 L191.86,365.58 L192.23,363.86 L192.62,362.84 L193.04,362.06 L193.50,360.95 L194.00,359.82 L194.69,358.98 L195.45,358.55 L196.24,358.01 L197.00,357.09 L197.99,357.21 L199.00,357.16 L199.75,357.24 L200.56,358.19 L201.33,358.73 L202.00,359.31 L202.45,359.97 L202.81,359.81 L203.09,361.70 L203.36,363.44 L203.65,363.40 L204.00,363.70 L204.46,364.98 L204.96,366.52 L205.47,367.41 L206.00,368.24 L206.68,368.52 L207.38,368.83 L208.00,369.90 L208.46,370.32 L208.86,371.93 L209.20,373.17 L209.50,374.14 L209.69,374.73 L209.85,376.39 L209.99,377.22 L210.10,377.60 L210.20,378.68 L210.30,379.46 L210.39,381.44 L210.50,382.43 L210.59,383.68 L210.67,385.05 L210.74,386.62 L210.82,387.03 L210.89,388.54 L210.95,389.52 L211.02,390.72 L211.09,391.17 L211.17,392.80 L211.24,394.28 L211.32,395.67 L211.41,397.06 L211.50,397.85 L211.60,398.52 L211.69,400.29 L211.79,401.16 L211.88,403.65 L211.99,404.56 L212.09,405.04 L212.20,406.89 L212.31,408.09 L212.43,409.03 L212.56,410.06 L212.70,411.09 L212.84,411.58 L213.00,413.00 L213.31,414.62 L213.65,415.39 L214.00,415.38 L214.37,415.13 L214.77,414.43 L215.16,412.96 L215.50,411.14 L215.65,410.41 L215.78,408.99 L215.90,408.44 L216.01,407.85 L216.11,406.73 L216.21,405.60 L216.30,404.26 L216.38,402.29 L216.46,401.60 L216.53,400.59 L216.61,398.67 L216.68,397.34 L216.76,396.48 L216.83,395.41 L216.91,393.81 L217.00,392.52 L217.11,391.07 L217.20,390.29 L217.29,389.56 L217.37,388.65 L217.46,387.28 L217.56,386.27 L217.68,384.98 L217.83,384.39 L218.00,383.24 L218.22,381.96 L218.48,381.36 L218.75,380.14 L219.04,378.93 L219.35,377.60 L219.67,376.78 L220.00,376.47 L220.37,374.82 L220.76,374.23 L221.16,372.63 L221.58,371.42 L222.03,371.05 L222.50,369.78 L223.08,368.93 L223.70,368.16 L224.34,368.07 L225.00,367.40 L225.73,366.32 L226.49,365.44 L227.26,364.90 L228.00,363.83 L228.63,363.41 L229.25,362.94 L229.86,362.16 L230.45,360.74 L231.00,360.50 L231.51,359.52 L231.95,359.19 L232.42,358.33 L233.00,357.31 L233.69,355.86 L234.48,356.09 L235.33,355.01 L236.19,354.63 L237.00,354.47 L237.98,354.35 L238.94,353.36 L240.00,353.70 L240.91,353.02 L241.90,352.76 L242.93,353.42 L243.98,352.97 L245.00,352.71 L245.97,352.03 L246.92,352.10 L247.88,351.22 L248.89,351.64 L250.00,352.01 L250.96,352.00 L251.99,351.61 L253.08,352.43 L254.21,352.17 L255.37,351.89 L256.54,351.93 L257.71,351.61 L258.87,351.49 L260.00,351.18 L261.11,351.22 L262.22,350.77 L263.33,351.33 L264.44,351.33 L265.56,351.35 L266.67,351.54 L267.78,351.33 L268.89,352.06 L270.00,351.34 L271.11,351.47 L272.22,351.67 L273.33,351.45 L274.44,351.07 L275.56,350.82 L276.67,351.52 L277.78,351.40 L278.89,351.61 L280.00,350.89 L281.11,350.98 L282.22,351.46 L283.33,351.56 L284.45,351.69 L285.56,351.50 L286.67,352.07 L287.78,352.00 L288.89,352.27 L290.00,352.33 L291.11,351.91 L292.22,351.81 L293.33,351.74 L294.44,351.28 L295.56,351.25 L296.67,350.93 L297.78,350.44 L298.89,350.69 L300.00,350.88 L301.13,351.20 L302.27,351.31 L303.43,350.92 L304.59,350.76 L305.74,351.38 L306.87,351.12 L307.96,350.62 L309.01,350.40 L310.00,350.66 L311.35,351.77 L312.71,351.31 L313.97,352.08 L315.04,351.80 L315.80,351.82" fill="none" stroke="#8abd2a" stroke-width="1.3" stroke-linejoin="round"/>
<path d="M102.60,349.38 L103.47,349.29 L104.72,349.29 L106.00,348.93 L106.97,349.35 L107.95,349.74 L108.96,349.73 L110.00,349.81 L110.96,349.46 L111.96,350.37 L112.97,350.54 L113.99,350.42 L115.00,350.71 L115.97,350.77 L116.92,350.72 L117.88,350.57 L118.89,350.57 L120.00,350.69 L120.96,350.86 L121.99,350.93 L123.08,350.77 L124.21,350.83 L125.37,350.44 L126.54,349.70 L127.71,349.30 L128.87,349.91 L130.00,349.35 L131.11,349.37 L132.22,349.71 L133.33,350.27 L134.44,349.55 L135.56,349.52 L136.67,349.65 L137.78,349.77 L138.89,350.12 L140.00,350.58 L141.11,350.75 L142.22,351.58 L143.33,351.56 L144.44,350.46 L145.56,349.76 L146.67,349.79 L147.78,349.76 L148.89,350.23 L150.00,350.34 L151.13,350.49 L152.29,350.32 L153.46,350.42 L154.63,350.49 L155.79,350.35 L156.92,350.60 L158.01,350.05 L159.04,350.61 L160.00,350.80 L161.11,351.70 L162.12,351.13 L163.08,350.27 L164.03,350.12 L165.00,350.23 L166.01,350.13 L167.03,349.95 L168.04,350.21 L169.04,350.06 L170.00,350.96 L171.09,350.55 L172.16,351.10 L173.16,351.74 L174.00,352.31 L174.48,353.35 L174.84,354.11 L175.10,355.27 L175.30,355.91 L175.47,356.75 L175.62,358.06 L175.79,359.59 L176.00,361.23 L176.23,361.77 L176.45,362.77 L176.67,363.78 L176.90,365.40 L177.12,366.30 L177.34,367.91 L177.56,368.77 L177.78,369.61 L178.00,370.58 L178.22,371.26 L178.44,371.82 L178.66,373.37 L178.88,374.67 L179.09,376.90 L179.32,378.04 L179.54,379.32 L179.77,380.23 L180.00,381.08 L180.28,381.71 L180.57,382.65 L180.86,384.65 L181.15,385.57 L181.44,386.58 L181.73,388.05 L182.00,388.98 L182.27,390.08 L182.53,392.16 L182.78,393.29 L183.03,394.04 L183.27,394.62 L183.50,394.69 L183.76,394.54 L184.00,393.72 L184.24,392.13 L184.50,390.84 L184.73,389.43 L184.97,388.66 L185.22,388.14 L185.48,386.78 L185.74,385.84 L186.00,384.61 L186.24,383.54 L186.47,382.65 L186.71,381.13 L186.95,380.47 L187.20,379.64 L187.45,378.66 L187.72,376.97 L188.00,375.36 L188.47,374.30 L188.96,373.66 L189.50,372.84 L189.98,372.11 L190.49,371.47 L191.01,370.64 L191.50,370.13 L191.94,368.67 L192.35,368.04 L192.74,367.25 L193.12,365.94 L193.50,366.22 L193.79,364.81 L194.06,363.54 L194.32,361.82 L194.58,360.91 L194.85,359.95 L195.15,359.33 L195.50,358.07 L196.06,357.25 L196.67,355.48 L197.32,354.63 L198.00,353.30 L198.92,352.94 L200.00,353.05 L200.88,352.44 L201.92,352.99 L203.03,353.37 L204.09,353.07 L205.00,353.38 L205.72,354.08 L206.34,355.27 L206.89,356.68 L207.43,357.15 L208.00,357.65 L208.62,358.46 L209.27,358.44 L209.90,359.90 L210.49,360.86 L211.00,361.71 L211.47,363.25 L211.85,363.94 L212.18,364.64 L212.50,366.23 L212.73,366.90 L212.93,367.96 L213.13,368.96 L213.31,370.16 L213.48,371.45 L213.65,372.75 L213.82,373.48 L214.00,375.27 L214.17,376.11 L214.33,377.10 L214.48,378.62 L214.64,379.53 L214.80,380.87 L214.96,382.34 L215.13,383.55 L215.31,384.19 L215.50,385.45 L215.78,386.56 L216.08,387.68 L216.38,388.79 L216.69,390.03 L217.00,390.21 L217.30,390.43 L217.61,389.60 L217.92,388.26 L218.21,387.00 L218.50,385.69 L218.73,384.05 L218.95,383.74 L219.16,381.65 L219.37,380.53 L219.57,378.68 L219.78,377.70 L220.00,376.61 L220.24,375.10 L220.47,374.40 L220.70,373.34 L220.94,372.21 L221.21,370.73 L221.50,370.28 L221.84,368.90 L222.20,367.95 L222.59,366.16 L223.02,365.76 L223.50,364.55 L224.06,364.00 L224.66,362.92 L225.31,362.17 L226.00,361.68 L226.71,361.03 L227.47,361.26 L228.24,360.38 L229.00,359.62 L229.76,359.36 L230.52,358.61 L231.26,357.52 L232.00,356.83 L232.73,356.42 L233.42,355.56 L234.15,355.12 L235.00,353.87 L235.89,353.61 L236.87,353.01 L237.91,352.73 L238.97,352.40 L240.00,352.04 L241.00,352.84 L241.99,352.42 L242.99,352.34 L244.00,352.07 L245.00,352.42 L245.97,351.69 L246.91,350.99 L247.87,351.24 L248.89,350.80 L250.00,351.38 L250.97,350.88 L252.01,350.85 L253.12,351.18 L254.27,350.76 L255.45,350.83 L256.63,351.09 L257.79,350.61 L258.92,350.78 L260.00,350.36 L261.20,350.44 L262.37,350.97 L263.52,351.04 L264.66,350.39 L265.78,349.93 L266.89,349.43 L268.00,349.68 L269.20,349.83 L270.41,349.25 L271.60,349.17 L272.77,349.07 L273.91,349.58 L275.00,349.92 L276.05,350.10 L277.06,350.40 L278.04,350.60 L279.02,350.56 L280.00,350.80 L281.00,350.68 L282.00,351.18 L283.00,351.66 L284.00,350.91 L285.00,351.83 L285.97,351.73 L286.91,351.94 L287.88,351.80 L288.89,352.21 L290.00,351.86 L290.96,351.78 L291.99,351.34 L293.08,351.23 L294.21,351.25 L295.37,350.70 L296.54,350.62 L297.71,350.39 L298.87,350.45 L300.00,350.77 L301.12,350.66 L302.27,350.99 L303.43,350.48 L304.59,350.32 L305.74,350.30 L306.87,350.05 L307.96,350.37 L309.01,350.19 L310.00,350.09 L311.35,350.44 L312.71,350.35 L313.97,350.62 L315.04,350.79 L315.80,351.30" fill="none" stroke="#f5b136" stroke-width="1.2" stroke-linejoin="round"/>
<path d="M102.60,348.49 L103.21,348.03 L104.10,347.96 L105.00,347.80 L106.01,347.88 L107.04,348.90 L108.00,349.17 L108.96,349.56 L110.00,350.39 L110.85,351.04 L111.83,351.16 L112.88,351.21 L113.96,350.66 L115.00,351.05 L115.97,351.14 L116.92,350.52 L117.88,350.27 L118.89,350.57 L120.00,350.18 L120.96,349.98 L121.99,349.88 L123.08,350.37 L124.21,350.17 L125.37,350.26 L126.54,350.56 L127.71,350.94 L128.87,351.13 L130.00,351.12 L131.11,351.05 L132.22,350.18 L133.33,350.32 L134.44,350.76 L135.56,350.93 L136.67,350.59 L137.78,350.78 L138.89,350.64 L140.00,350.63 L141.11,350.49 L142.22,350.18 L143.33,349.77 L144.44,349.63 L145.56,349.87 L146.67,351.16 L147.78,350.26 L148.89,350.55 L150.00,350.91 L151.13,351.06 L152.29,350.89 L153.46,350.84 L154.63,350.85 L155.79,350.59 L156.92,350.45 L158.01,350.50 L159.04,350.54 L160.00,350.62 L161.13,350.33 L162.18,350.84 L163.17,350.90 L164.11,350.62 L165.00,350.08 L166.04,349.83 L167.00,349.96 L168.00,350.18 L168.97,350.23 L169.98,351.03 L171.00,350.87 L172.00,351.73 L173.22,351.01 L174.43,351.29 L175.50,351.13 L176.24,351.33 L176.88,352.46 L177.46,353.63 L178.00,354.77 L178.45,356.00 L178.86,356.84 L179.24,357.52 L179.61,358.79 L180.00,360.28 L180.39,361.45 L180.77,361.80 L181.15,362.66 L181.56,363.65 L182.00,364.52 L182.57,364.83 L183.18,365.72 L183.80,366.04 L184.66,365.48 L185.50,365.46 L186.00,364.62 L186.45,363.55 L186.93,362.62 L187.50,361.52 L188.28,361.10 L189.15,360.79 L190.00,360.30 L190.85,359.59 L191.69,359.10 L192.50,358.25 L193.13,357.28 L193.73,356.53 L194.34,355.83 L195.00,354.82 L195.72,354.33 L196.50,353.62 L197.28,353.24 L198.00,353.01 L198.67,352.79 L199.28,352.69 L200.00,352.29 L200.89,351.71 L201.90,351.93 L202.96,351.69 L204.00,352.27 L205.01,352.66 L206.03,353.45 L207.03,354.09 L208.00,354.75 L209.05,354.71 L210.06,354.02 L211.00,354.18 L211.92,355.65 L212.75,356.50 L213.50,357.54 L213.97,358.32 L214.35,358.41 L214.71,359.70 L215.08,360.92 L215.50,361.56 L216.14,362.73 L216.82,364.19 L217.50,364.62 L218.17,364.20 L218.85,363.07 L219.50,362.10 L220.00,361.39 L220.46,360.44 L220.95,359.13 L221.50,358.20 L222.27,357.07 L223.12,357.08 L224.00,356.54 L224.83,356.62 L225.67,356.55 L226.50,355.55 L227.33,354.84 L228.14,354.25 L229.00,353.05 L229.97,353.50 L231.00,354.06 L232.00,354.37 L232.86,355.13 L233.69,355.13 L234.50,355.51 L235.34,355.57 L236.14,354.44 L237.00,354.08 L237.93,353.14 L238.91,352.59 L240.00,352.54 L240.91,352.28 L241.89,352.20 L242.93,352.20 L243.97,352.27 L245.00,351.37 L245.97,351.76 L246.91,351.27 L247.87,351.16 L248.89,350.86 L250.00,351.32 L250.97,351.23 L252.01,350.45 L253.12,350.41 L254.27,350.53 L255.45,350.74 L256.63,350.98 L257.79,351.20 L258.92,351.06 L260.00,351.01 L261.20,350.86 L262.37,350.54 L263.52,350.78 L264.66,350.37 L265.78,350.10 L266.89,350.00 L268.00,349.53 L269.20,350.04 L270.41,349.86 L271.60,350.25 L272.77,350.07 L273.91,350.42 L275.00,350.37 L276.06,350.08 L277.07,349.98 L278.05,349.64 L279.02,350.30 L280.00,350.12 L281.00,350.00 L282.00,351.08 L283.00,351.32 L283.99,351.88 L285.00,352.03 L285.97,351.61 L286.91,351.82 L287.88,352.32 L288.89,352.02 L290.00,351.28 L290.96,351.76 L291.99,351.50 L293.08,351.36 L294.21,350.86 L295.36,350.79 L296.53,350.20 L297.71,349.60 L298.87,350.02 L300.00,350.02 L301.12,350.43 L302.27,349.75 L303.43,349.82 L304.59,349.46 L305.74,350.26 L306.87,349.88 L307.96,350.08 L309.01,349.65 L310.00,349.73 L311.36,349.87 L312.72,350.28 L313.98,350.59 L315.04,351.22 L315.80,351.34" fill="none" stroke="#f39200" stroke-width="1.2" stroke-linejoin="round"/>
<path d="M400.30,455.29 L400.84,455.93 L401.62,456.76 L402.49,457.40 L403.30,458.11 L404.02,457.41 L404.72,457.12 L405.44,456.00 L406.20,455.17 L407.15,454.73 L408.14,454.29 L409.10,454.39 L409.85,453.99 L410.58,453.97 L411.29,452.59 L412.00,452.39 L412.76,450.90 L413.50,449.77 L414.24,448.02 L415.00,448.04 L415.70,447.61 L416.41,448.59 L417.14,449.71 L417.90,450.58 L418.74,451.42 L419.61,452.12 L420.50,452.67 L421.40,452.71 L422.16,453.57 L422.94,454.32 L423.72,455.53 L424.50,457.13 L425.27,457.69 L426.00,456.92 L426.72,457.19 L427.40,456.89 L428.08,455.80 L428.77,455.49 L429.50,453.81 L430.38,453.17 L431.32,453.45 L432.22,451.93 L433.00,450.59 L433.50,451.17 L433.91,450.45 L434.24,450.65 L434.53,449.87 L434.81,448.79 L435.09,447.71 L435.40,445.88 L435.73,444.25 L436.05,444.06 L436.37,443.12 L436.69,441.21 L437.01,440.07 L437.35,439.78 L437.70,439.34 L438.12,437.96 L438.52,436.43 L438.96,436.03 L439.44,435.39 L440.00,434.51 L441.17,434.26 L442.40,434.60 L443.04,435.63 L443.67,435.88 L444.27,436.44 L444.85,437.26 L445.40,438.69 L445.90,439.92 L446.28,439.63 L446.60,440.84 L446.89,442.33 L447.16,443.34 L447.45,444.98 L447.79,445.92 L448.20,447.37 L448.83,448.49 L449.55,449.38 L450.31,450.52 L451.05,451.61 L451.70,451.53 L452.21,450.92 L452.65,449.92 L453.07,449.67 L453.51,448.13 L454.00,447.90 L454.79,447.89 L455.63,449.11 L456.40,449.53 L456.86,449.05 L457.28,448.18 L457.67,447.14 L458.04,445.32 L458.38,444.60 L458.70,443.55 L459.03,441.83 L459.29,441.07 L459.58,439.81 L460.00,438.81 L460.51,438.08 L461.13,437.08 L461.83,435.67 L462.54,435.38 L463.21,434.50 L463.80,433.34 L464.08,433.25 L464.34,432.05 L464.59,431.25 L464.82,430.75 L465.03,430.06 L465.24,429.01 L465.43,427.65 L465.61,426.22 L465.79,424.96 L465.95,424.23 L466.11,422.88 L466.27,421.11 L466.42,419.88 L466.57,418.09 L466.72,416.34 L466.87,415.63 L467.02,414.53 L467.18,414.00 L467.33,412.28 L467.50,411.13 L467.63,409.61 L467.77,408.21 L467.90,408.42 L468.03,407.26 L468.16,405.90 L468.28,404.11 L468.41,403.30 L468.53,401.39 L468.65,400.70 L468.77,399.67 L468.89,398.07 L469.01,397.15 L469.13,395.96 L469.24,394.64 L469.36,393.89 L469.47,392.98 L469.59,391.69 L469.70,390.33 L469.82,389.62 L469.93,387.92 L470.04,386.48 L470.16,385.43 L470.27,383.69 L470.38,382.80 L470.50,382.02 L470.61,380.77 L470.72,380.39 L470.84,378.12 L470.95,376.72 L471.07,375.12 L471.18,374.22 L471.30,373.01 L471.42,371.77 L471.53,370.01 L471.65,369.44 L471.77,368.67 L471.88,366.66 L472.00,366.10 L472.11,364.55 L472.23,363.25 L472.34,362.38 L472.46,360.66 L472.57,359.71 L472.69,358.14 L472.80,356.92 L472.92,356.26 L473.03,355.41 L473.15,354.65 L473.26,352.78 L473.38,351.09 L473.49,349.45 L473.61,348.15 L473.72,347.56 L473.84,346.41 L473.95,346.10 L474.07,345.17 L474.18,344.30 L474.30,342.40 L474.42,340.01 L474.53,339.04 L474.65,338.46 L474.77,337.39 L474.88,336.18 L475.00,334.59 L475.15,333.63 L475.29,333.46 L475.43,332.44 L475.56,330.60 L475.69,328.78 L475.82,328.05 L475.95,327.05 L476.09,325.14 L476.22,324.69 L476.36,323.38 L476.50,322.08 L476.64,321.22 L476.79,319.93 L476.95,318.31 L477.12,316.38 L477.30,315.13 L477.49,315.39 L477.69,314.07 L477.90,313.28 L478.23,312.02 L478.59,310.52 L478.97,309.42 L479.37,306.94 L479.77,306.58 L480.17,305.07 L480.57,304.41 L480.94,303.90 L481.30,303.81 L481.70,304.87 L482.09,305.09 L482.47,306.00 L482.84,307.83 L483.18,308.64 L483.50,309.26 L483.70,310.77 L483.87,311.98 L484.03,312.81 L484.18,313.72 L484.31,315.58 L484.43,317.36 L484.55,317.90 L484.66,318.81 L484.77,320.46 L484.88,321.29 L485.00,322.63 L485.12,323.83 L485.25,325.51 L485.40,327.27 L485.54,327.46 L485.68,327.84 L485.83,328.81 L485.98,329.62 L486.13,331.00 L486.28,332.89 L486.44,333.37 L486.60,335.08 L486.76,335.82 L486.92,337.81 L487.08,338.95 L487.24,340.52 L487.40,341.23 L487.56,342.29 L487.73,343.98 L487.88,345.24 L488.04,346.35 L488.20,347.67 L488.35,348.99 L488.51,349.36 L488.66,350.10 L488.82,350.87 L488.97,352.30 L489.12,353.91 L489.28,355.03 L489.43,356.46 L489.58,357.67 L489.74,359.18 L489.89,359.34 L490.05,360.35 L490.20,361.47 L490.36,362.74 L490.52,363.67 L490.68,365.27 L490.84,367.09 L491.00,368.80 L491.18,369.57 L491.36,371.03 L491.55,371.86 L491.73,373.08 L491.92,374.01 L492.10,375.78 L492.29,376.00 L492.48,376.08 L492.67,377.81 L492.86,378.87 L493.05,379.46 L493.24,381.03 L493.43,381.97 L493.61,382.34 L493.80,383.50 L493.98,385.00 L494.17,386.65 L494.36,387.63 L494.56,388.67 L494.75,389.99 L494.94,390.88 L495.14,391.99 L495.33,394.18 L495.52,395.27 L495.70,396.77 L495.88,397.49 L496.06,399.66 L496.23,400.52 L496.39,401.02 L496.55,402.72 L496.70,404.24 L496.83,405.11 L496.95,406.08 L497.06,406.66 L497.17,407.05 L497.27,409.40 L497.37,410.91 L497.46,412.08 L497.55,413.44 L497.63,414.35 L497.72,415.41 L497.80,416.28 L497.88,416.97 L497.97,418.07 L498.05,419.93 L498.13,420.39 L498.22,421.78 L498.31,422.52 L498.40,424.72 L498.50,425.44 L498.60,426.77 L498.70,428.13 L498.80,429.06 L498.90,429.84 L499.00,431.50 L499.10,432.60 L499.20,433.59 L499.30,435.51 L499.40,436.11 L499.50,437.58 L499.61,438.20 L499.71,439.59 L499.82,441.51 L499.93,441.41 L500.04,442.70 L500.16,444.36 L500.28,445.91 L500.40,446.98 L500.52,448.35 L500.64,449.17 L500.76,450.24 L500.88,451.51 L501.00,452.00 L501.12,454.01 L501.24,454.68 L501.37,455.04 L501.49,456.80 L501.62,457.78 L501.76,458.80 L501.90,459.16 L502.04,461.24 L502.18,461.82 L502.34,463.44 L502.49,465.06 L502.66,465.79 L502.82,466.88 L503.00,467.68 L503.23,468.33 L503.47,470.06 L503.73,471.82 L503.99,472.51 L504.26,474.40 L504.54,476.64 L504.81,478.22 L505.10,478.97 L505.38,480.01 L505.65,481.07 L505.93,481.04 L506.20,481.32 L506.54,480.88 L506.88,480.36 L507.22,479.68 L507.56,478.19 L507.90,476.63 L508.25,475.21 L508.60,473.77 L508.88,473.04 L509.15,471.99 L509.41,469.96 L509.67,468.94 L509.93,468.29 L510.20,467.15 L510.49,465.57 L510.80,465.05 L511.13,463.68 L511.50,462.34 L511.90,461.77 L512.48,461.10 L513.12,460.62 L513.79,460.60 L514.48,459.58 L515.19,457.59 L515.90,457.34 L516.56,456.63 L517.23,455.22 L517.91,453.68 L518.60,452.66 L519.30,452.55 L520.00,451.39 L520.70,450.67 L521.72,450.87 L522.76,449.94 L523.78,449.70 L524.70,448.96 L525.58,448.87 L526.38,449.20 L527.10,450.70 L527.53,451.71 L527.91,452.34 L528.25,453.00 L528.57,454.62 L528.88,455.90 L529.18,456.59 L529.50,458.11 L529.74,458.87 L529.99,460.36 L530.23,461.02 L530.47,462.36 L530.70,462.99 L530.94,464.57 L531.17,465.92 L531.40,466.53 L531.62,467.52 L531.85,469.32 L532.07,470.51 L532.28,472.19 L532.49,473.07 L532.70,474.66 L532.91,474.68 L533.11,476.35 L533.30,478.41 L533.49,479.74 L533.68,480.93 L533.86,481.05 L534.04,482.72 L534.22,483.55 L534.41,484.13 L534.60,485.87 L534.80,486.40 L535.00,487.77 L535.28,488.91 L535.57,489.73 L535.86,491.27 L536.15,492.83 L536.46,493.64 L536.77,494.28 L537.10,494.54 L537.40,495.11 L537.70,494.48 L538.02,492.99 L538.34,491.32 L538.66,490.20 L538.99,488.94 L539.33,487.51 L539.66,485.73 L540.00,485.02 L540.34,484.06 L540.68,483.62 L541.03,482.23 L541.37,480.36 L541.72,479.06 L542.08,478.47 L542.44,477.64 L542.82,476.97 L543.20,475.26 L543.51,475.12 L543.81,473.79 L544.10,472.63 L544.40,470.93 L544.69,469.86 L545.00,467.96 L545.31,465.15 L545.63,464.78 L545.97,463.93 L546.33,463.09 L546.71,462.16 L547.11,460.26 L547.54,459.18 L548.00,459.29 L548.72,457.65 L549.49,456.26 L550.30,456.36 L551.13,457.10 L551.97,455.87 L552.80,454.95 L553.76,454.43 L554.76,453.79 L555.75,453.02 L556.71,452.79 L557.60,452.28 L558.24,450.53 L558.81,449.95 L559.34,449.48 L559.86,448.60 L560.39,447.45 L560.96,445.85 L561.60,445.36 L562.55,445.93 L563.57,446.48 L564.63,447.05 L565.70,446.72 L566.62,446.83 L567.56,447.29 L568.51,446.33 L569.49,445.73 L570.50,446.01 L571.51,445.54 L572.56,446.55 L573.64,446.48 L574.73,446.43 L575.82,446.52 L576.90,447.14 L577.97,446.35 L579.04,446.81 L580.11,446.42 L581.18,446.62 L582.24,446.57 L583.30,447.20 L584.40,446.95 L585.53,447.29 L586.66,448.01 L587.75,448.49 L588.77,449.01 L589.70,448.08 L590.31,447.92 L590.85,447.47 L591.33,447.01 L591.78,445.15 L592.19,443.73 L592.58,443.08 L592.97,441.30 L593.35,440.08 L593.74,438.79 L594.15,437.54 L594.60,437.57 L595.39,437.97 L596.19,438.60 L597.00,440.10 L597.80,439.98 L598.68,441.62 L599.60,443.02 L600.43,443.91 L601.00,444.56" fill="none" stroke="#26235f" stroke-width="1.1" stroke-linejoin="round"/>
<path d="M400.30,450.76 L400.78,451.35 L401.47,452.46 L402.27,453.16 L403.08,453.79 L403.80,453.31 L404.50,452.51 L405.15,452.36 L405.81,450.75 L406.50,450.67 L407.25,449.85 L408.01,449.08 L408.82,448.02 L409.70,447.42 L410.56,446.77 L411.50,446.33 L412.48,445.85 L413.46,445.34 L414.40,445.35 L415.32,446.16 L416.21,446.78 L417.10,447.94 L418.02,448.69 L419.00,448.63 L419.91,449.89 L420.88,450.26 L421.87,451.04 L422.88,451.30 L423.90,450.74 L424.90,451.26 L426.11,451.39 L427.38,450.68 L428.62,450.91 L429.76,450.71 L430.70,451.15 L431.48,450.72 L432.06,448.65 L432.53,447.60 L433.00,446.79 L433.29,445.70 L433.54,444.12 L433.76,443.62 L433.95,441.32 L434.14,441.04 L434.33,440.18 L434.54,438.72 L434.78,437.99 L435.07,435.64 L435.40,434.59 L435.90,433.77 L436.44,432.57 L437.02,431.71 L437.64,431.11 L438.30,430.48 L439.25,430.96 L440.26,431.92 L441.20,432.04 L442.16,431.26 L443.00,431.03 L443.42,431.58 L443.73,432.75 L443.99,434.02 L444.29,434.62 L444.70,436.63 L445.29,436.69 L445.98,437.85 L446.72,439.07 L447.47,439.99 L448.20,440.88 L448.89,441.46 L449.55,443.20 L450.23,444.32 L450.94,444.70 L451.70,445.45 L452.55,445.89 L453.47,445.23 L454.38,444.98 L455.20,444.04 L456.08,444.77 L456.87,443.17 L457.60,442.67 L458.10,442.37 L458.55,441.36 L458.97,440.29 L459.41,439.31 L459.90,437.60 L460.35,436.74 L460.83,435.84 L461.34,435.81 L461.86,434.40 L462.38,433.63 L462.89,432.21 L463.36,430.74 L463.80,430.19 L464.06,429.66 L464.30,428.53 L464.53,427.44 L464.75,426.45 L464.96,425.19 L465.16,423.66 L465.35,423.30 L465.53,421.86 L465.70,420.07 L465.87,418.68 L466.04,417.83 L466.20,417.85 L466.36,417.13 L466.52,415.47 L466.68,413.15 L466.83,411.79 L467.00,410.18 L467.16,409.05 L467.33,408.21 L467.50,407.36 L467.66,405.87 L467.81,404.49 L467.96,403.72 L468.12,401.93 L468.27,401.27 L468.42,400.23 L468.57,399.41 L468.72,397.65 L468.88,396.97 L469.02,396.11 L469.17,394.01 L469.32,392.77 L469.47,390.74 L469.61,390.27 L469.76,390.25 L469.91,388.86 L470.05,387.36 L470.19,385.71 L470.33,384.89 L470.47,383.88 L470.61,382.46 L470.75,380.73 L470.89,379.73 L471.03,378.83 L471.17,378.31 L471.30,377.43 L471.46,376.26 L471.61,374.98 L471.75,373.78 L471.90,372.28 L472.04,370.07 L472.17,368.79 L472.31,368.17 L472.44,366.92 L472.58,365.50 L472.72,364.61 L472.85,363.29 L472.99,362.07 L473.14,361.01 L473.28,360.12 L473.43,359.05 L473.59,357.45 L473.75,356.12 L473.92,354.52 L474.10,353.75 L474.34,352.27 L474.59,351.11 L474.83,350.64 L475.08,349.10 L475.33,348.29 L475.60,346.95 L475.89,345.99 L476.20,344.57 L476.54,343.50 L476.90,343.24 L477.56,342.03 L478.28,341.19 L479.02,340.24 L479.70,338.56 L480.17,338.87 L480.61,340.32 L481.04,341.89 L481.46,343.06 L481.85,343.99 L482.23,344.90 L482.60,346.71 L482.86,348.14 L483.11,349.35 L483.35,351.01 L483.58,351.06 L483.79,352.24 L484.01,353.32 L484.21,354.14 L484.41,354.86 L484.61,356.33 L484.81,358.14 L485.00,359.21 L485.20,360.17 L485.40,361.97 L485.56,362.81 L485.72,364.46 L485.87,364.91 L486.01,365.69 L486.14,367.67 L486.28,369.42 L486.41,369.93 L486.54,371.14 L486.67,372.62 L486.81,373.13 L486.95,374.15 L487.10,375.41 L487.25,376.66 L487.42,377.66 L487.59,378.52 L487.78,379.50 L487.98,381.46 L488.20,381.98 L488.52,382.53 L488.88,385.47 L489.26,386.62 L489.65,387.58 L490.06,388.38 L490.46,389.76 L490.87,391.15 L491.26,391.56 L491.64,392.32 L492.00,392.85 L492.34,394.83 L492.68,395.29 L493.01,396.47 L493.33,397.39 L493.64,397.77 L493.95,399.37 L494.24,400.82 L494.53,401.17 L494.80,402.96 L494.99,404.50 L495.17,405.04 L495.35,406.57 L495.52,408.07 L495.68,409.34 L495.84,409.54 L496.00,410.87 L496.15,412.23 L496.29,413.10 L496.43,414.55 L496.57,415.52 L496.71,417.63 L496.84,418.75 L496.97,419.29 L497.10,421.34 L497.22,422.05 L497.35,423.59 L497.47,425.10 L497.60,425.66 L497.72,428.15 L497.85,428.51 L497.96,429.74 L498.08,431.49 L498.19,431.44 L498.30,432.62 L498.40,434.35 L498.51,435.51 L498.61,436.87 L498.71,437.96 L498.81,439.07 L498.91,441.09 L499.01,441.83 L499.11,442.30 L499.21,443.85 L499.30,444.86 L499.40,445.52 L499.50,446.09 L499.64,446.70 L499.77,447.36 L499.89,448.96 L500.02,450.34 L500.15,451.56 L500.28,452.85 L500.43,455.36 L500.60,455.62 L500.75,456.69 L500.91,457.85 L501.07,458.78 L501.25,459.64 L501.43,461.16 L501.61,462.22 L501.80,463.18 L502.00,465.25 L502.20,466.01 L502.40,466.91 L502.60,467.59 L502.80,468.70 L503.00,470.25 L503.19,470.80 L503.39,472.33 L503.58,473.75 L503.78,474.72 L503.98,477.15 L504.18,478.73 L504.39,480.55 L504.59,481.76 L504.80,483.24 L505.01,484.22 L505.23,485.34 L505.45,486.32 L505.67,485.70 L505.90,486.35 L506.18,486.29 L506.47,485.64 L506.77,484.04 L507.07,483.05 L507.38,482.29 L507.69,481.10 L507.99,478.57 L508.30,477.11 L508.60,476.86 L508.84,475.50 L509.07,474.25 L509.29,473.74 L509.50,472.15 L509.71,470.85 L509.93,469.28 L510.15,467.93 L510.38,466.97 L510.63,466.49 L510.91,465.29 L511.20,465.08 L511.53,463.78 L511.90,462.36 L512.48,461.46 L513.12,460.35 L513.79,458.84 L514.49,457.67 L515.20,456.99 L515.90,457.28 L516.56,455.98 L517.23,455.11 L517.90,454.32 L518.57,452.74 L519.26,452.12 L519.97,450.36 L520.70,448.96 L521.70,449.77 L522.75,449.32 L523.77,448.36 L524.70,447.91 L525.58,448.44 L526.38,449.59 L527.10,450.69 L527.59,451.81 L528.03,451.69 L528.41,452.66 L528.78,453.32 L529.13,455.95 L529.50,456.65 L529.75,458.16 L529.99,458.84 L530.22,460.37 L530.45,461.43 L530.68,462.82 L530.90,463.22 L531.12,464.72 L531.34,466.16 L531.56,467.14 L531.78,468.44 L532.00,469.50 L532.23,470.25 L532.46,472.41 L532.70,473.13 L532.93,474.13 L533.16,475.72 L533.39,475.94 L533.62,477.30 L533.84,479.51 L534.07,481.12 L534.30,483.14 L534.54,484.89 L534.78,486.06 L535.03,487.35 L535.28,488.93 L535.54,489.39 L535.82,489.48 L536.10,490.09 L536.40,489.99 L536.82,490.48 L537.26,490.95 L537.72,489.94 L538.20,489.51 L538.67,487.44 L539.13,485.56 L539.58,484.18 L540.00,483.35 L540.36,482.43 L540.69,480.61 L541.01,479.87 L541.31,478.99 L541.61,476.64 L541.90,475.51 L542.20,474.03 L542.52,472.90 L542.85,471.86 L543.20,470.84 L543.52,470.37 L543.83,470.02 L544.15,468.35 L544.47,466.93 L544.79,465.53 L545.12,464.43 L545.47,462.78 L545.83,461.43 L546.21,460.86 L546.61,459.76 L547.04,458.44 L547.51,457.53 L548.00,456.86 L548.87,456.05 L549.82,455.11 L550.81,454.85 L551.82,454.07 L552.80,453.63 L553.78,453.15 L554.78,452.66 L555.78,452.26 L556.72,451.70 L557.60,451.25 L558.26,450.56 L558.83,449.08 L559.36,447.83 L559.87,446.56 L560.40,445.61 L560.96,444.54 L561.60,443.46 L562.55,443.99 L563.56,444.47 L564.62,445.29 L565.70,446.09 L566.61,445.72 L567.54,446.10 L568.50,445.35 L569.48,444.95 L570.50,444.12 L571.51,444.87 L572.56,444.84 L573.63,445.10 L574.72,445.55 L575.82,445.64 L576.90,445.19 L577.98,445.95 L579.08,445.94 L580.18,447.01 L581.27,446.65 L582.31,445.94 L583.30,445.85 L584.35,445.68 L585.34,445.65 L586.28,443.80 L587.20,443.20 L588.10,442.78 L588.84,442.38 L589.54,440.88 L590.22,439.59 L590.89,439.05 L591.56,437.81 L592.26,437.24 L593.00,436.26 L593.92,437.25 L594.88,438.39 L595.85,438.58 L596.83,439.60 L597.80,439.80 L598.89,440.06 L600.05,439.27 L601.08,438.50 L601.80,438.12" fill="none" stroke="#1a9fe0" stroke-width="1.35" stroke-linejoin="round"/>
<path d="M400.30,450.46 L401.16,449.86 L402.39,450.00 L403.75,450.45 L405.00,449.78 L405.97,448.52 L406.91,447.66 L407.83,447.93 L408.75,447.87 L409.70,447.18 L410.63,446.58 L411.58,446.28 L412.53,444.70 L413.48,443.87 L414.40,443.20 L415.32,443.98 L416.22,444.94 L417.10,446.28 L418.02,446.52 L419.00,447.74 L419.93,448.31 L420.91,448.73 L421.92,449.24 L422.94,450.02 L423.94,449.36 L424.90,450.16 L426.10,450.65 L427.27,451.22 L428.41,452.18 L429.50,451.37 L430.43,451.38 L431.34,451.10 L432.20,450.83 L433.00,450.62 L433.60,450.06 L434.14,448.93 L434.63,448.10 L435.10,447.10 L435.56,445.87 L436.02,444.32 L436.50,443.71 L436.98,442.44 L437.43,440.98 L437.87,439.54 L438.33,438.25 L438.82,438.26 L439.37,437.53 L440.00,436.78 L440.85,436.49 L441.81,436.93 L442.82,437.59 L443.81,438.60 L444.70,438.42 L445.46,439.11 L446.16,439.78 L446.83,440.88 L447.50,441.19 L448.20,441.86 L449.04,442.04 L449.88,444.13 L450.76,444.39 L451.70,444.58 L452.61,445.64 L453.61,444.46 L454.62,442.93 L455.58,443.78 L456.40,444.40 L457.26,445.16 L457.96,445.98 L458.70,447.08 L459.50,446.59 L460.33,445.99 L461.10,446.31 L461.73,446.80 L462.29,446.05 L462.83,444.69 L463.40,443.69 L463.79,443.30 L464.20,442.22 L464.61,441.19 L465.03,440.44 L465.46,439.16 L465.88,437.62 L466.30,436.15 L466.71,435.17 L467.11,434.15 L467.50,433.63 L467.85,432.81 L468.19,431.58 L468.52,430.44 L468.85,429.88 L469.17,428.72 L469.48,427.85 L469.79,426.23 L470.10,425.26 L470.40,423.93 L470.70,422.33 L471.00,420.54 L471.30,419.88 L471.56,419.44 L471.82,418.75 L472.06,417.42 L472.30,416.05 L472.54,414.21 L472.77,413.27 L473.00,411.82 L473.23,410.56 L473.47,409.16 L473.70,408.17 L473.95,407.16 L474.20,405.62 L474.45,405.08 L474.72,404.21 L475.00,403.82 L475.34,402.82 L475.69,401.23 L476.03,400.28 L476.39,398.33 L476.75,396.04 L477.13,395.18 L477.52,394.18 L477.92,393.05 L478.35,392.15 L478.80,392.96 L479.69,392.80 L480.63,393.74 L481.60,394.37 L482.55,394.48 L483.53,394.17 L484.40,394.58 L484.83,393.94 L485.20,394.66 L485.52,395.39 L485.81,396.98 L486.06,398.05 L486.30,399.51 L486.53,401.70 L486.77,402.73 L487.02,403.82 L487.30,405.53 L487.60,407.01 L487.90,406.76 L488.20,407.72 L488.51,408.12 L488.81,409.82 L489.12,410.66 L489.44,411.56 L489.76,413.23 L490.10,414.96 L490.44,416.05 L490.80,416.23 L491.17,417.36 L491.54,418.11 L491.92,420.76 L492.30,421.65 L492.68,422.10 L493.06,423.57 L493.43,425.74 L493.80,426.08 L494.23,426.51 L494.66,427.86 L495.09,429.21 L495.51,430.45 L495.92,432.23 L496.32,432.12 L496.70,433.55 L496.97,434.11 L497.24,434.45 L497.50,435.85 L497.75,437.51 L498.00,438.90 L498.23,439.91 L498.46,441.50 L498.68,442.44 L498.90,443.83 L499.11,444.76 L499.31,445.72 L499.50,446.17 L499.71,447.58 L499.89,448.83 L500.05,450.38 L500.21,451.30 L500.37,451.63 L500.54,453.24 L500.75,454.37 L501.00,455.53 L501.24,455.94 L501.50,456.94 L501.78,458.03 L502.06,458.96 L502.37,460.33 L502.69,460.94 L503.03,461.83 L503.39,463.76 L503.78,464.30 L504.18,466.39 L504.60,467.03 L505.21,467.65 L505.87,469.26 L506.57,469.67 L507.28,471.16 L507.96,471.06 L508.60,471.87 L509.10,471.16 L509.56,470.13 L510.00,469.97 L510.43,469.10 L510.85,467.21 L511.27,465.63 L511.72,463.69 L512.19,462.56 L512.70,461.99 L513.32,460.76 L513.96,459.67 L514.62,458.11 L515.31,457.84 L516.02,456.71 L516.75,456.39 L517.50,456.12 L518.25,454.89 L519.04,453.63 L519.85,452.77 L520.68,452.04 L521.50,450.98 L522.31,450.46 L523.10,449.33 L524.13,450.13 L525.15,450.48 L526.15,451.91 L527.10,452.16 L527.82,452.87 L528.52,453.66 L529.19,454.38 L529.84,455.79 L530.48,456.39 L531.10,457.27 L531.55,458.21 L531.97,459.02 L532.38,460.33 L532.78,460.88 L533.17,462.44 L533.55,462.82 L533.93,464.22 L534.32,465.24 L534.72,466.40 L535.13,467.75 L535.55,468.91 L536.00,469.97 L536.64,470.44 L537.30,472.58 L537.98,473.42 L538.67,474.03 L539.34,474.34 L540.00,475.04 L540.50,474.15 L540.98,473.69 L541.45,473.14 L541.92,471.86 L542.38,470.38 L542.84,468.87 L543.31,468.22 L543.79,467.10 L544.29,466.47 L544.80,465.75 L545.44,465.03 L546.09,462.93 L546.75,462.40 L547.43,460.94 L548.12,459.75 L548.85,458.74 L549.60,458.09 L550.33,458.03 L551.10,457.39 L551.88,456.71 L552.69,454.91 L553.51,455.16 L554.34,454.25 L555.17,453.79 L556.00,452.86 L556.89,451.86 L557.78,450.25 L558.68,449.52 L559.59,447.54 L560.51,447.32 L561.44,446.63 L562.40,446.94 L563.45,447.32 L564.52,447.43 L565.61,447.94 L566.71,448.18 L567.81,449.26 L568.90,448.80 L569.96,449.17 L571.01,448.27 L572.06,448.78 L573.12,448.90 L574.20,448.80 L575.30,449.07 L576.42,449.60 L577.58,449.80 L578.76,450.43 L579.95,451.65 L581.11,452.43 L582.24,452.72 L583.30,451.81 L584.19,451.83 L585.04,451.17 L585.87,450.22 L586.67,449.44 L587.45,449.04 L588.21,447.87 L588.96,446.53 L589.70,445.48 L590.35,444.89 L590.98,443.41 L591.58,442.11 L592.17,440.97 L592.75,439.71 L593.33,437.47 L593.89,436.37 L594.46,435.77 L595.03,435.48 L595.61,434.92 L596.20,434.38 L597.05,434.25 L597.97,435.25 L598.90,436.67 L599.75,438.18 L600.48,439.22 L601.00,439.10" fill="none" stroke="#8abd2a" stroke-width="1.3" stroke-linejoin="round"/>
<path d="M400.30,448.73 L400.94,449.28 L401.85,449.28 L402.91,449.66 L404.00,450.31 L405.00,449.85 L405.95,450.11 L406.88,448.96 L407.80,448.27 L408.74,446.82 L409.70,446.33 L410.51,446.08 L411.33,445.48 L412.16,444.39 L413.00,442.25 L413.84,441.64 L414.68,441.48 L415.50,442.00 L416.35,442.14 L417.20,443.16 L418.05,444.08 L418.89,444.78 L419.73,446.58 L420.56,447.69 L421.40,448.23 L422.32,449.09 L423.24,450.41 L424.16,450.56 L425.08,450.19 L426.00,450.79 L426.95,449.56 L427.93,449.58 L428.90,449.72 L429.83,449.14 L430.70,448.45 L431.47,447.30 L432.17,446.27 L432.85,445.89 L433.52,444.70 L434.20,445.18 L434.90,444.30 L435.60,444.17 L436.29,443.82 L436.99,442.73 L437.70,442.21 L438.27,441.23 L438.83,440.04 L439.39,438.68 L439.96,437.27 L440.54,436.45 L441.13,435.40 L441.75,434.04 L442.40,434.10 L443.29,434.13 L444.25,433.80 L445.22,434.98 L446.15,435.35 L447.00,435.84 L447.69,437.33 L448.28,437.37 L448.82,440.30 L449.36,440.65 L449.94,442.74 L450.60,442.19 L451.69,442.23 L452.85,441.42 L454.00,441.40 L454.92,441.99 L455.82,443.21 L456.71,443.58 L457.60,444.65 L458.55,444.55 L459.50,445.55 L460.50,445.14 L461.32,444.55 L462.20,443.99 L463.11,443.68 L464.01,442.08 L464.85,441.87 L465.60,440.59 L466.13,440.05 L466.60,439.38 L467.02,437.56 L467.40,436.51 L467.75,435.21 L468.08,434.11 L468.40,433.78 L468.72,433.28 L469.05,432.55 L469.40,430.55 L469.72,428.87 L470.03,427.57 L470.34,426.46 L470.64,425.77 L470.93,424.77 L471.23,422.72 L471.53,422.36 L471.84,421.52 L472.16,419.65 L472.49,418.11 L472.84,417.27 L473.20,415.91 L473.69,414.84 L474.20,413.73 L474.73,413.53 L475.26,412.55 L475.81,410.52 L476.36,410.34 L476.90,409.64 L477.59,410.42 L478.27,412.03 L478.97,413.27 L479.70,413.29 L480.66,413.29 L481.65,411.97 L482.60,411.57 L483.18,412.22 L483.73,412.94 L484.25,414.18 L484.76,414.69 L485.26,415.73 L485.78,416.82 L486.30,418.34 L486.77,419.21 L487.24,420.18 L487.70,421.74 L488.17,422.20 L488.65,422.83 L489.12,423.69 L489.61,424.62 L490.10,426.09 L490.70,427.10 L491.32,427.08 L491.95,427.85 L492.58,428.09 L493.20,429.91 L493.80,431.30 L494.30,431.07 L494.80,432.45 L495.29,433.30 L495.78,434.21 L496.26,435.07 L496.72,436.50 L497.17,438.00 L497.60,438.73 L498.05,440.38 L498.49,441.62 L498.91,442.47 L499.31,443.92 L499.69,445.41 L500.05,445.41 L500.40,446.77 L500.62,447.89 L500.81,449.04 L500.99,450.63 L501.16,450.99 L501.31,452.14 L501.46,452.96 L501.60,454.62 L501.74,454.94 L501.87,456.01 L502.01,457.75 L502.15,459.31 L502.30,460.19 L502.45,461.37 L502.62,463.26 L502.80,463.69 L503.00,464.91 L503.21,465.51 L503.43,467.44 L503.66,468.76 L503.89,469.76 L504.13,471.81 L504.37,473.14 L504.63,474.57 L504.88,476.49 L505.14,478.20 L505.40,479.13 L505.67,479.72 L505.93,480.81 L506.20,481.15 L506.47,482.14 L506.73,482.09 L507.00,482.22 L507.35,482.05 L507.71,482.06 L508.07,481.25 L508.44,479.91 L508.81,478.80 L509.18,477.17 L509.55,476.00 L509.93,474.97 L510.30,473.81 L510.61,472.49 L510.91,471.99 L511.19,470.71 L511.46,469.00 L511.74,467.76 L512.02,467.02 L512.33,465.27 L512.65,464.10 L513.00,462.90 L513.39,461.89 L513.82,460.95 L514.30,460.15 L514.96,459.82 L515.70,459.74 L516.48,458.27 L517.31,457.54 L518.16,457.40 L519.02,456.25 L519.87,455.01 L520.70,454.39 L521.51,453.45 L522.34,452.68 L523.19,451.44 L524.03,449.71 L524.86,448.93 L525.66,448.12 L526.41,448.20 L527.10,447.48 L527.61,447.79 L528.08,448.65 L528.53,449.64 L528.95,449.49 L529.34,451.36 L529.71,452.74 L530.06,453.85 L530.40,455.09 L530.73,455.57 L531.05,457.47 L531.37,458.97 L531.68,460.94 L532.00,462.09 L532.25,463.98 L532.48,464.35 L532.69,465.16 L532.89,467.64 L533.08,468.79 L533.26,469.50 L533.43,471.10 L533.59,472.77 L533.75,474.02 L533.92,475.61 L534.08,476.32 L534.24,477.88 L534.42,479.46 L534.60,480.58 L534.79,482.14 L535.00,483.15 L535.22,483.77 L535.46,484.33 L535.72,483.91 L536.00,483.86 L536.51,484.02 L537.07,483.14 L537.66,482.56 L538.26,481.63 L538.87,480.63 L539.45,478.59 L540.00,478.16 L540.35,477.53 L540.68,476.87 L540.98,475.68 L541.26,474.94 L541.54,472.37 L541.80,470.65 L542.07,469.48 L542.34,467.57 L542.62,467.19 L542.92,466.43 L543.23,465.60 L543.57,463.23 L543.94,463.00 L544.35,461.93 L544.80,460.93 L545.47,460.47 L546.19,459.03 L546.96,458.56 L547.76,457.61 L548.59,456.70 L549.44,457.15 L550.31,456.32 L551.20,456.12 L552.13,455.23 L553.09,455.05 L554.09,453.11 L555.10,452.95 L556.13,452.28 L557.16,452.04 L558.19,451.48 L559.20,450.81 L560.20,450.12 L561.19,450.33 L562.18,449.54 L563.17,448.59 L564.18,447.96 L565.19,447.10 L566.23,446.59 L567.30,445.55 L568.32,445.56 L569.36,445.31 L570.43,445.41 L571.52,444.31 L572.61,443.28 L573.70,442.73 L574.79,443.10 L575.85,442.49 L576.90,443.05 L578.08,442.18 L579.27,442.14 L580.45,442.02 L581.61,442.58 L582.74,442.69 L583.84,442.71 L584.90,443.30 L585.91,442.22 L586.86,441.14 L587.78,440.87 L588.67,440.19 L589.56,439.68 L590.47,439.11 L591.40,438.28 L592.47,438.12 L593.58,438.35 L594.69,440.11 L595.79,439.93 L596.83,440.87 L597.80,440.72 L598.75,440.26 L599.69,439.32 L600.55,438.38 L601.28,438.30 L601.80,436.99" fill="none" stroke="#f5b136" stroke-width="1.2" stroke-linejoin="round"/>
<path d="M400.30,454.85 L401.15,455.08 L402.37,454.94 L403.73,454.92 L405.00,454.47 L405.95,454.46 L406.88,454.06 L407.81,453.41 L408.74,453.21 L409.70,452.65 L410.64,452.69 L411.61,452.01 L412.59,451.90 L413.57,450.59 L414.54,449.92 L415.50,449.21 L416.45,449.31 L417.38,449.79 L418.30,449.94 L419.24,450.46 L420.20,450.48 L421.15,451.17 L422.13,450.93 L423.13,452.07 L424.12,452.29 L425.08,452.29 L426.00,452.01 L427.01,452.96 L427.99,455.17 L428.93,455.96 L429.83,455.89 L430.70,455.96 L431.45,454.99 L432.14,455.35 L432.82,454.03 L433.49,453.23 L434.20,452.79 L434.84,451.93 L435.49,450.15 L436.15,450.01 L436.82,449.72 L437.50,448.08 L438.19,447.61 L438.90,446.62 L439.60,445.61 L440.33,444.29 L441.09,444.75 L441.85,443.30 L442.60,441.49 L443.34,441.39 L444.04,440.44 L444.70,440.67 L445.45,440.66 L446.15,440.48 L446.81,441.96 L447.49,442.96 L448.20,445.19 L448.83,446.12 L449.47,446.05 L450.13,446.88 L450.79,447.57 L451.48,447.61 L452.18,448.90 L452.90,449.35 L453.81,449.97 L454.75,451.53 L455.71,452.38 L456.67,452.42 L457.60,453.30 L458.39,452.90 L459.16,453.50 L459.92,451.13 L460.68,450.30 L461.43,449.14 L462.20,448.46 L463.38,448.62 L464.57,449.28 L465.70,448.46 L466.44,448.52 L467.13,448.33 L467.81,447.43 L468.49,446.27 L469.20,445.60 L469.96,444.35 L470.72,444.10 L471.51,443.81 L472.33,443.22 L473.20,442.46 L474.31,440.76 L475.50,441.36 L476.70,441.33 L477.90,442.31 L479.06,441.28 L480.22,442.30 L481.39,443.07 L482.60,442.57 L483.69,442.85 L484.81,443.69 L485.95,442.70 L487.08,443.34 L488.20,442.82 L489.35,442.49 L490.50,442.43 L491.64,443.68 L492.74,445.02 L493.80,444.98 L494.76,445.42 L495.68,445.37 L496.57,445.92 L497.42,447.33 L498.20,446.98 L498.62,448.13 L498.99,447.80 L499.33,449.26 L499.63,451.63 L499.92,452.54 L500.18,453.33 L500.43,455.26 L500.67,455.66 L500.91,456.66 L501.16,457.41 L501.41,459.37 L501.67,460.99 L501.96,461.79 L502.27,462.91 L502.62,463.50 L503.00,464.46 L503.55,465.45 L504.16,466.94 L504.80,468.19 L505.47,468.90 L506.14,470.94 L506.80,472.21 L507.44,473.44 L508.05,473.02 L508.60,473.30 L509.08,472.94 L509.51,473.00 L509.90,471.93 L510.26,470.81 L510.61,469.55 L510.96,468.02 L511.33,466.73 L511.73,465.13 L512.18,463.28 L512.70,462.08 L513.29,461.40 L513.93,460.49 L514.60,459.79 L515.30,458.28 L516.03,457.08 L516.78,456.08 L517.54,455.38 L518.32,454.44 L519.10,454.37 L519.96,453.20 L520.87,451.48 L521.82,451.39 L522.77,450.65 L523.72,450.20 L524.64,449.62 L525.50,448.03 L526.30,447.92 L527.46,448.26 L528.52,448.32 L529.50,448.56 L529.94,450.38 L530.34,450.00 L530.69,451.71 L531.01,452.52 L531.31,454.26 L531.60,454.98 L531.88,456.14 L532.16,458.41 L532.46,459.64 L532.77,460.50 L533.12,461.33 L533.50,462.85 L533.92,462.96 L534.36,464.05 L534.82,465.59 L535.30,466.48 L535.79,467.01 L536.29,468.87 L536.79,470.14 L537.29,471.67 L537.78,472.12 L538.27,473.06 L538.74,473.10 L539.20,473.50 L539.78,473.19 L540.34,473.10 L540.88,472.56 L541.42,470.70 L541.98,469.44 L542.57,467.87 L543.20,466.53 L543.76,465.56 L544.33,464.87 L544.91,464.38 L545.52,462.92 L546.14,461.03 L546.78,459.94 L547.45,459.32 L548.14,458.92 L548.86,457.55 L549.60,457.99 L550.60,457.24 L551.67,456.59 L552.78,456.11 L553.89,454.99 L554.97,455.80 L556.00,455.53 L557.00,456.03 L557.95,456.11 L558.88,455.99 L559.82,457.17 L560.80,457.10 L561.68,456.35 L562.58,456.38 L563.48,456.07 L564.40,455.37 L565.34,454.53 L566.31,453.43 L567.30,453.26 L568.37,452.43 L569.47,452.25 L570.60,452.25 L571.75,451.77 L572.92,451.86 L574.10,450.99 L575.30,449.48 L576.34,449.43 L577.43,450.05 L578.55,450.16 L579.68,449.77 L580.80,449.71 L581.90,450.48 L582.97,450.90 L583.97,450.60 L584.90,449.90 L585.76,449.16 L586.54,447.65 L587.26,446.49 L587.93,446.20 L588.58,445.46 L589.23,443.23 L589.90,442.29 L590.62,442.24 L591.40,441.34 L592.42,440.84 L593.51,440.19 L594.63,441.73 L595.74,441.72 L596.81,441.85 L597.80,442.61 L598.96,442.15 L600.11,441.76 L601.10,440.81 L601.80,441.50" fill="none" stroke="#f39200" stroke-width="1.2" stroke-linejoin="round"/>
<text x="111.40" y="293.70" font-size="12.5" fill="#222" font-weight="bold" stroke="#222" stroke-width="0.2">c</text>
<text x="133.20" y="293.10" font-size="8.75" fill="#222" font-weight="bold" stroke="#222" stroke-width="0.2">Paracetamol</text>
<line x1="102.60" y1="509.50" x2="286.30" y2="509.50" stroke="#333" stroke-width="1.1"/>
<line x1="165.60" y1="509.50" x2="165.60" y2="512.20" stroke="#333" stroke-width="0.9"/>
<text x="167.20" y="522.60" font-size="8.75" fill="#2a2a2a" text-anchor="middle" stroke="#2a2a2a" stroke-width="0.2">6.84</text>
<line x1="222.60" y1="509.50" x2="222.60" y2="512.20" stroke="#333" stroke-width="0.9"/>
<text x="224.20" y="522.60" font-size="8.75" fill="#2a2a2a" text-anchor="middle" stroke="#2a2a2a" stroke-width="0.2">6.83</text>
<text x="198.40" y="535.00" font-size="8.75" fill="#2a2a2a" text-anchor="middle">δ<tspan font-size="5" dy="1.6">1</tspan><tspan dy="-1.6"> (</tspan><tspan font-size="5" dy="-3">1</tspan><tspan dy="3">H) [ppm]</tspan></text>
<rect x="111.5" y="447.10" width="8.8" height="8.5" fill="#26235f" stroke="#555" stroke-width="0.5" stroke-opacity="0.6"/>
<text x="125.00" y="455.10" font-size="8.75" fill="#2a2a2a" stroke="#2a2a2a" stroke-width="0.2">200 µM</text>
<rect x="111.5" y="458.65" width="8.8" height="8.5" fill="#1a9fe0" stroke="#555" stroke-width="0.5" stroke-opacity="0.6"/>
<text x="125.00" y="466.65" font-size="8.75" fill="#2a2a2a" stroke="#2a2a2a" stroke-width="0.2">160 µM</text>
<rect x="111.5" y="470.20" width="8.8" height="8.5" fill="#8abd2a" stroke="#555" stroke-width="0.5" stroke-opacity="0.6"/>
<text x="125.00" y="478.20" font-size="8.75" fill="#2a2a2a" stroke="#2a2a2a" stroke-width="0.2">100 µM</text>
<rect x="111.5" y="481.75" width="8.8" height="8.5" fill="#f5b136" stroke="#555" stroke-width="0.5" stroke-opacity="0.6"/>
<text x="125.00" y="489.75" font-size="8.75" fill="#2a2a2a" stroke="#2a2a2a" stroke-width="0.2">60 µM</text>
<rect x="111.5" y="493.30" width="8.8" height="8.5" fill="#f39200" stroke="#555" stroke-width="0.5" stroke-opacity="0.6"/>
<text x="125.00" y="501.30" font-size="8.75" fill="#2a2a2a" stroke="#2a2a2a" stroke-width="0.2">20 µM</text>
<text x="412.50" y="294.00" font-size="12.5" fill="#222" font-weight="bold" stroke="#222" stroke-width="0.2">d</text>
<text x="428.40" y="292.60" font-size="8.75" fill="#222" font-weight="bold" stroke="#222" stroke-width="0.2">Sumatriptan</text>
<line x1="393.30" y1="509.50" x2="609.50" y2="509.50" stroke="#333" stroke-width="1.1"/>
<line x1="458.80" y1="509.50" x2="458.80" y2="512.20" stroke="#333" stroke-width="0.9"/>
<text x="460.20" y="521.60" font-size="8.75" fill="#2a2a2a" text-anchor="middle" stroke="#2a2a2a" stroke-width="0.2">7.65</text>
<line x1="515.70" y1="509.50" x2="515.70" y2="512.20" stroke="#333" stroke-width="0.9"/>
<text x="517.10" y="521.60" font-size="8.75" fill="#2a2a2a" text-anchor="middle" stroke="#2a2a2a" stroke-width="0.2">7.62</text>
<text x="489.00" y="533.90" font-size="8.75" fill="#2a2a2a" text-anchor="middle">δ<tspan font-size="5" dy="1.6">1</tspan><tspan dy="-1.6"> (</tspan><tspan font-size="5" dy="-3">1</tspan><tspan dy="3">H) [ppm]</tspan></text>
<line x1="82.80" y1="567.50" x2="82.80" y2="771.00" stroke="#333" stroke-width="1.2"/>
<line x1="82.20" y1="770.40" x2="355.30" y2="770.40" stroke="#333" stroke-width="1.2"/>
<line x1="79.60" y1="752.58" x2="82.80" y2="752.58" stroke="#555" stroke-width="1.0"/>
<text x="78.40" y="755.58" font-size="8.75" fill="#2a2a2a" text-anchor="end" stroke="#2a2a2a" stroke-width="0.2">20</text>
<line x1="106.52" y1="770.40" x2="106.52" y2="773.20" stroke="#555" stroke-width="1.0"/>
<text x="107.02" y="783.10" font-size="8.75" fill="#2a2a2a" text-anchor="middle" stroke="#2a2a2a" stroke-width="0.2">20</text>
<line x1="79.60" y1="734.96" x2="82.80" y2="734.96" stroke="#555" stroke-width="1.0"/>
<text x="78.40" y="737.96" font-size="8.75" fill="#2a2a2a" text-anchor="end" stroke="#2a2a2a" stroke-width="0.2">40</text>
<line x1="130.24" y1="770.40" x2="130.24" y2="773.20" stroke="#555" stroke-width="1.0"/>
<text x="130.74" y="783.10" font-size="8.75" fill="#2a2a2a" text-anchor="middle" stroke="#2a2a2a" stroke-width="0.2">40</text>
<line x1="79.60" y1="717.34" x2="82.80" y2="717.34" stroke="#555" stroke-width="1.0"/>
<text x="78.40" y="720.34" font-size="8.75" fill="#2a2a2a" text-anchor="end" stroke="#2a2a2a" stroke-width="0.2">60</text>
<line x1="153.96" y1="770.40" x2="153.96" y2="773.20" stroke="#555" stroke-width="1.0"/>
<text x="154.46" y="783.10" font-size="8.75" fill="#2a2a2a" text-anchor="middle" stroke="#2a2a2a" stroke-width="0.2">60</text>
<line x1="79.60" y1="699.72" x2="82.80" y2="699.72" stroke="#555" stroke-width="1.0"/>
<text x="78.40" y="702.72" font-size="8.75" fill="#2a2a2a" text-anchor="end" stroke="#2a2a2a" stroke-width="0.2">80</text>
<line x1="177.68" y1="770.40" x2="177.68" y2="773.20" stroke="#555" stroke-width="1.0"/>
<text x="178.18" y="783.10" font-size="8.75" fill="#2a2a2a" text-anchor="middle" stroke="#2a2a2a" stroke-width="0.2">80</text>
<line x1="79.60" y1="682.10" x2="82.80" y2="682.10" stroke="#555" stroke-width="1.0"/>
<text x="78.40" y="685.10" font-size="8.75" fill="#2a2a2a" text-anchor="end" stroke="#2a2a2a" stroke-width="0.2">100</text>
<line x1="201.40" y1="770.40" x2="201.40" y2="773.20" stroke="#555" stroke-width="1.0"/>
<text x="201.90" y="783.10" font-size="8.75" fill="#2a2a2a" text-anchor="middle" stroke="#2a2a2a" stroke-width="0.2">100</text>
<line x1="79.60" y1="664.48" x2="82.80" y2="664.48" stroke="#555" stroke-width="1.0"/>
<text x="78.40" y="667.48" font-size="8.75" fill="#2a2a2a" text-anchor="end" stroke="#2a2a2a" stroke-width="0.2">120</text>
<line x1="225.12" y1="770.40" x2="225.12" y2="773.20" stroke="#555" stroke-width="1.0"/>
<text x="225.62" y="783.10" font-size="8.75" fill="#2a2a2a" text-anchor="middle" stroke="#2a2a2a" stroke-width="0.2">120</text>
<line x1="79.60" y1="646.86" x2="82.80" y2="646.86" stroke="#555" stroke-width="1.0"/>
<text x="78.40" y="649.86" font-size="8.75" fill="#2a2a2a" text-anchor="end" stroke="#2a2a2a" stroke-width="0.2">140</text>
<line x1="248.84" y1="770.40" x2="248.84" y2="773.20" stroke="#555" stroke-width="1.0"/>
<text x="249.34" y="783.10" font-size="8.75" fill="#2a2a2a" text-anchor="middle" stroke="#2a2a2a" stroke-width="0.2">140</text>
<line x1="79.60" y1="629.24" x2="82.80" y2="629.24" stroke="#555" stroke-width="1.0"/>
<text x="78.40" y="632.24" font-size="8.75" fill="#2a2a2a" text-anchor="end" stroke="#2a2a2a" stroke-width="0.2">160</text>
<line x1="272.56" y1="770.40" x2="272.56" y2="773.20" stroke="#555" stroke-width="1.0"/>
<text x="273.06" y="783.10" font-size="8.75" fill="#2a2a2a" text-anchor="middle" stroke="#2a2a2a" stroke-width="0.2">160</text>
<line x1="79.60" y1="611.62" x2="82.80" y2="611.62" stroke="#555" stroke-width="1.0"/>
<text x="78.40" y="614.62" font-size="8.75" fill="#2a2a2a" text-anchor="end" stroke="#2a2a2a" stroke-width="0.2">180</text>
<line x1="296.28" y1="770.40" x2="296.28" y2="773.20" stroke="#555" stroke-width="1.0"/>
<text x="296.78" y="783.10" font-size="8.75" fill="#2a2a2a" text-anchor="middle" stroke="#2a2a2a" stroke-width="0.2">180</text>
<line x1="79.60" y1="594.00" x2="82.80" y2="594.00" stroke="#555" stroke-width="1.0"/>
<text x="78.40" y="597.00" font-size="8.75" fill="#2a2a2a" text-anchor="end" stroke="#2a2a2a" stroke-width="0.2">200</text>
<line x1="320.00" y1="770.40" x2="320.00" y2="773.20" stroke="#555" stroke-width="1.0"/>
<text x="320.50" y="783.10" font-size="8.75" fill="#2a2a2a" text-anchor="middle" stroke="#2a2a2a" stroke-width="0.2">200</text>
<line x1="79.60" y1="576.38" x2="82.80" y2="576.38" stroke="#555" stroke-width="1.0"/>
<text x="78.40" y="579.38" font-size="8.75" fill="#2a2a2a" text-anchor="end" stroke="#2a2a2a" stroke-width="0.2">220</text>
<line x1="343.72" y1="770.40" x2="343.72" y2="773.20" stroke="#555" stroke-width="1.0"/>
<text x="344.22" y="783.10" font-size="8.75" fill="#2a2a2a" text-anchor="middle" stroke="#2a2a2a" stroke-width="0.2">220</text>
<text x="220.00" y="795.70" font-size="8.75" fill="#2a2a2a" text-anchor="middle" stroke="#2a2a2a" stroke-width="0.2">True concentration of paracetamol in pure urine sample (µM)</text>
<text x="29.60" y="639.90" font-size="8.75" fill="#2a2a2a" text-anchor="middle" stroke="#2a2a2a" stroke-width="0.2">Determined</text>
<text x="29.60" y="650.50" font-size="8.75" fill="#2a2a2a" text-anchor="middle" stroke="#2a2a2a" stroke-width="0.2">concentration</text>
<text x="29.60" y="661.50" font-size="8.75" fill="#2a2a2a" text-anchor="middle" stroke="#2a2a2a" stroke-width="0.2">in pure urine</text>
<text x="30.90" y="671.80" font-size="8.75" fill="#2a2a2a" text-anchor="middle" stroke="#2a2a2a" stroke-width="0.2">sample (µM)</text>
<text x="91.60" y="580.80" font-size="12.5" fill="#222" font-weight="bold" stroke="#222" stroke-width="0.2">e</text>
<text x="105.80" y="580.80" font-size="8.75" fill="#222" font-weight="bold" stroke="#222" stroke-width="0.2">Paracetamol</text>
<circle cx="94.20" cy="592.80" r="2.2" fill="#2fb4bf"/>
<text x="104.70" y="594.90" font-size="8.75" fill="#2a2a2a" stroke="#2a2a2a" stroke-width="0.2">Urine IV</text>
<circle cx="94.20" cy="604.55" r="2.2" fill="#983c98"/>
<text x="104.50" y="606.65" font-size="8.75" fill="#2a2a2a" stroke="#2a2a2a" stroke-width="0.2">Urine V</text>
<circle cx="94.20" cy="616.30" r="2.2" fill="#c3bd12"/>
<text x="104.10" y="618.40" font-size="8.75" fill="#2a2a2a" stroke="#2a2a2a" stroke-width="0.2">Urine VI</text>
<line x1="106.52" y1="752.58" x2="106.52" y2="751.96" stroke="#2fb4bf" stroke-width="1.1" stroke-dasharray="2.6 1.5"/>
<line x1="106.52" y1="752.58" x2="106.52" y2="749.94" stroke="#c3bd12" stroke-width="1.1" stroke-dasharray="2.6 1.5"/>
<line x1="106.52" y1="752.58" x2="106.52" y2="764.91" stroke="#983c98" stroke-width="1.1" stroke-dasharray="2.6 1.5"/>
<line x1="153.96" y1="717.34" x2="153.96" y2="708.53" stroke="#2fb4bf" stroke-width="1.1" stroke-dasharray="2.6 1.5"/>
<line x1="153.96" y1="717.34" x2="153.96" y2="708.53" stroke="#c3bd12" stroke-width="1.1" stroke-dasharray="2.6 1.5"/>
<line x1="153.96" y1="717.34" x2="153.96" y2="727.21" stroke="#983c98" stroke-width="1.1" stroke-dasharray="2.6 1.5"/>
<line x1="201.40" y1="682.10" x2="201.40" y2="671.53" stroke="#c3bd12" stroke-width="1.1" stroke-dasharray="2.6 1.5"/>
<line x1="201.40" y1="682.10" x2="201.40" y2="686.77" stroke="#2fb4bf" stroke-width="1.1" stroke-dasharray="2.6 1.5"/>
<line x1="201.40" y1="682.10" x2="201.40" y2="692.32" stroke="#983c98" stroke-width="1.1" stroke-dasharray="2.6 1.5"/>
<line x1="272.56" y1="629.24" x2="272.56" y2="617.79" stroke="#c3bd12" stroke-width="1.1" stroke-dasharray="2.6 1.5"/>
<line x1="272.56" y1="629.24" x2="272.56" y2="623.07" stroke="#2fb4bf" stroke-width="1.1" stroke-dasharray="2.6 1.5"/>
<line x1="272.56" y1="629.24" x2="272.56" y2="629.24" stroke="#983c98" stroke-width="1.1" stroke-dasharray="2.6 1.5"/>
<line x1="320.00" y1="594.00" x2="320.00" y2="601.05" stroke="#983c98" stroke-width="1.1" stroke-dasharray="2.6 1.5"/>
<line x1="320.00" y1="594.00" x2="320.00" y2="595.76" stroke="#2fb4bf" stroke-width="1.1" stroke-dasharray="2.6 1.5"/>
<line x1="320.00" y1="594.00" x2="320.00" y2="596.64" stroke="#c3bd12" stroke-width="1.1" stroke-dasharray="2.6 1.5"/>
<circle cx="106.52" cy="751.96" r="2.6" fill="#2fb4bf" fill-opacity="0.8"/>
<circle cx="106.52" cy="749.94" r="2.6" fill="#c3bd12" fill-opacity="0.8"/>
<circle cx="106.52" cy="764.91" r="2.6" fill="#983c98" fill-opacity="0.8"/>
<circle cx="153.96" cy="708.53" r="2.6" fill="#2fb4bf" fill-opacity="0.8"/>
<circle cx="153.96" cy="708.53" r="2.6" fill="#c3bd12" fill-opacity="0.8"/>
<circle cx="153.96" cy="727.21" r="2.6" fill="#983c98" fill-opacity="0.8"/>
<circle cx="201.40" cy="671.53" r="2.6" fill="#c3bd12" fill-opacity="0.8"/>
<circle cx="201.40" cy="686.77" r="2.6" fill="#2fb4bf" fill-opacity="0.8"/>
<circle cx="201.40" cy="692.32" r="2.6" fill="#983c98" fill-opacity="0.8"/>
<circle cx="272.56" cy="617.79" r="2.6" fill="#c3bd12" fill-opacity="0.8"/>
<circle cx="272.56" cy="623.07" r="2.6" fill="#2fb4bf" fill-opacity="0.8"/>
<circle cx="272.56" cy="629.24" r="2.6" fill="#983c98" fill-opacity="0.8"/>
<circle cx="320.00" cy="601.05" r="2.6" fill="#983c98" fill-opacity="0.8"/>
<circle cx="320.00" cy="595.76" r="2.6" fill="#2fb4bf" fill-opacity="0.8"/>
<circle cx="320.00" cy="596.64" r="2.6" fill="#c3bd12" fill-opacity="0.8"/>
<line x1="82.80" y1="770.20" x2="354.80" y2="568.00" stroke="#6a6a6a" stroke-width="1.75" stroke-dasharray="4.9 2.6"/>
<text x="277.60" y="590.40" font-size="8.75" fill="#2fb4bf" stroke="#2fb4bf" stroke-width="0.2">2 µM (1%)</text>
<text x="324.40" y="600.40" font-size="8.75" fill="#c3bd12" stroke="#c3bd12" stroke-width="0.2">3 µM (1%)</text>
<text x="319.30" y="611.60" font-size="8.75" fill="#983c98" stroke="#983c98" stroke-width="0.2">8 µM (4%)</text>
<text x="248.60" y="611.30" font-size="8.75" fill="#c3bd12" stroke="#c3bd12" stroke-width="0.2">12 µM (7%)</text>
<text x="227.30" y="627.80" font-size="8.75" fill="#2fb4bf" stroke="#2fb4bf" stroke-width="0.2">6 µM (4%)</text>
<text x="277.70" y="639.40" font-size="8.75" fill="#983c98" stroke="#983c98" stroke-width="0.2">0 µM (0%)</text>
<text x="161.60" y="666.10" font-size="8.75" fill="#c3bd12" stroke="#c3bd12" stroke-width="0.2">11 µM (11%)</text>
<text x="213.80" y="685.40" font-size="8.75" fill="#2fb4bf" stroke="#2fb4bf" stroke-width="0.2">5 µM (5%)</text>
<text x="209.80" y="697.90" font-size="8.75" fill="#983c98" stroke="#983c98" stroke-width="0.2">11 µM (11%)</text>
<text x="120.80" y="696.00" font-size="8.75" fill="#c3bd12" stroke="#c3bd12" stroke-width="0.2">10 µM (17%)</text>
<text x="177.60" y="713.50" font-size="8.75" fill="#2fb4bf" stroke="#2fb4bf" stroke-width="0.2">10 µM (16%)</text>
<text x="164.50" y="728.00" font-size="8.75" fill="#983c98" stroke="#983c98" stroke-width="0.2">11 µM (18%)</text>
<text x="163.90" y="747.10" font-size="8.75" fill="#c3bd12" stroke="#c3bd12" stroke-width="0.2">3 µM (18%)</text>
<text x="117.00" y="753.70" font-size="8.75" fill="#2fb4bf" stroke="#2fb4bf" stroke-width="0.2">0 µM (4%)</text>
<text x="107.00" y="763.60" font-size="8.75" fill="#983c98" stroke="#983c98" stroke-width="0.2">13 µM (66%)</text>
<line x1="376.10" y1="770.40" x2="649.70" y2="770.40" stroke="#333" stroke-width="1.2"/>
<line x1="400.43" y1="770.40" x2="400.43" y2="773.20" stroke="#555" stroke-width="1.0"/>
<text x="400.73" y="782.60" font-size="8.75" fill="#2a2a2a" text-anchor="middle" stroke="#2a2a2a" stroke-width="0.2">20</text>
<line x1="424.16" y1="770.40" x2="424.16" y2="773.20" stroke="#555" stroke-width="1.0"/>
<text x="424.46" y="782.60" font-size="8.75" fill="#2a2a2a" text-anchor="middle" stroke="#2a2a2a" stroke-width="0.2">40</text>
<line x1="447.89" y1="770.40" x2="447.89" y2="773.20" stroke="#555" stroke-width="1.0"/>
<text x="448.19" y="782.60" font-size="8.75" fill="#2a2a2a" text-anchor="middle" stroke="#2a2a2a" stroke-width="0.2">60</text>
<line x1="471.62" y1="770.40" x2="471.62" y2="773.20" stroke="#555" stroke-width="1.0"/>
<text x="471.92" y="782.60" font-size="8.75" fill="#2a2a2a" text-anchor="middle" stroke="#2a2a2a" stroke-width="0.2">80</text>
<line x1="495.35" y1="770.40" x2="495.35" y2="773.20" stroke="#555" stroke-width="1.0"/>
<text x="495.65" y="782.60" font-size="8.75" fill="#2a2a2a" text-anchor="middle" stroke="#2a2a2a" stroke-width="0.2">100</text>
<line x1="519.08" y1="770.40" x2="519.08" y2="773.20" stroke="#555" stroke-width="1.0"/>
<text x="519.38" y="782.60" font-size="8.75" fill="#2a2a2a" text-anchor="middle" stroke="#2a2a2a" stroke-width="0.2">120</text>
<line x1="542.81" y1="770.40" x2="542.81" y2="773.20" stroke="#555" stroke-width="1.0"/>
<text x="543.11" y="782.60" font-size="8.75" fill="#2a2a2a" text-anchor="middle" stroke="#2a2a2a" stroke-width="0.2">140</text>
<line x1="566.54" y1="770.40" x2="566.54" y2="773.20" stroke="#555" stroke-width="1.0"/>
<text x="566.84" y="782.60" font-size="8.75" fill="#2a2a2a" text-anchor="middle" stroke="#2a2a2a" stroke-width="0.2">160</text>
<line x1="590.27" y1="770.40" x2="590.27" y2="773.20" stroke="#555" stroke-width="1.0"/>
<text x="590.57" y="782.60" font-size="8.75" fill="#2a2a2a" text-anchor="middle" stroke="#2a2a2a" stroke-width="0.2">180</text>
<line x1="614.00" y1="770.40" x2="614.00" y2="773.20" stroke="#555" stroke-width="1.0"/>
<text x="614.30" y="782.60" font-size="8.75" fill="#2a2a2a" text-anchor="middle" stroke="#2a2a2a" stroke-width="0.2">200</text>
<line x1="637.73" y1="770.40" x2="637.73" y2="773.20" stroke="#555" stroke-width="1.0"/>
<text x="638.03" y="782.60" font-size="8.75" fill="#2a2a2a" text-anchor="middle" stroke="#2a2a2a" stroke-width="0.2">220</text>
<text x="526.10" y="795.80" font-size="8.75" fill="#2a2a2a" text-anchor="middle" stroke="#2a2a2a" stroke-width="0.2">True concentration of sumatriptan in pure urine sample (µM)</text>
<text x="407.40" y="580.80" font-size="12.5" fill="#222" font-weight="bold" stroke="#222" stroke-width="0.2">f</text>
<text x="424.70" y="580.80" font-size="8.75" fill="#222" font-weight="bold" stroke="#222" stroke-width="0.2">Sumatriptan</text>
<circle cx="397.40" cy="591.70" r="2.2" fill="#2fb4bf"/>
<text x="407.20" y="594.50" font-size="8.75" fill="#2a2a2a" stroke="#2a2a2a" stroke-width="0.2">Urine IV</text>
<circle cx="397.40" cy="603.45" r="2.2" fill="#983c98"/>
<text x="407.20" y="606.25" font-size="8.75" fill="#2a2a2a" stroke="#2a2a2a" stroke-width="0.2">Urine V</text>
<circle cx="397.40" cy="615.20" r="2.2" fill="#c3bd12"/>
<text x="407.20" y="618.00" font-size="8.75" fill="#2a2a2a" stroke="#2a2a2a" stroke-width="0.2">Urine VI</text>
<line x1="400.43" y1="752.58" x2="400.43" y2="753.46" stroke="#2fb4bf" stroke-width="1.1" stroke-dasharray="2.6 1.5"/>
<line x1="400.43" y1="752.58" x2="400.43" y2="753.02" stroke="#983c98" stroke-width="1.1" stroke-dasharray="2.6 1.5"/>
<line x1="400.43" y1="752.58" x2="400.43" y2="758.39" stroke="#c3bd12" stroke-width="1.1" stroke-dasharray="2.6 1.5"/>
<line x1="447.89" y1="717.34" x2="447.89" y2="709.94" stroke="#983c98" stroke-width="1.1" stroke-dasharray="2.6 1.5"/>
<line x1="447.89" y1="717.34" x2="447.89" y2="714.70" stroke="#2fb4bf" stroke-width="1.1" stroke-dasharray="2.6 1.5"/>
<line x1="447.89" y1="717.34" x2="447.89" y2="722.63" stroke="#c3bd12" stroke-width="1.1" stroke-dasharray="2.6 1.5"/>
<line x1="495.35" y1="682.10" x2="495.35" y2="672.41" stroke="#2fb4bf" stroke-width="1.1" stroke-dasharray="2.6 1.5"/>
<line x1="495.35" y1="682.10" x2="495.35" y2="671.53" stroke="#983c98" stroke-width="1.1" stroke-dasharray="2.6 1.5"/>
<line x1="495.35" y1="682.10" x2="495.35" y2="690.91" stroke="#c3bd12" stroke-width="1.1" stroke-dasharray="2.6 1.5"/>
<line x1="566.54" y1="629.24" x2="566.54" y2="614.26" stroke="#2fb4bf" stroke-width="1.1" stroke-dasharray="2.6 1.5"/>
<line x1="566.54" y1="629.24" x2="566.54" y2="638.49" stroke="#983c98" stroke-width="1.1" stroke-dasharray="2.6 1.5"/>
<line x1="566.54" y1="629.24" x2="566.54" y2="639.37" stroke="#c3bd12" stroke-width="1.1" stroke-dasharray="2.6 1.5"/>
<line x1="614.00" y1="594.00" x2="614.00" y2="579.38" stroke="#2fb4bf" stroke-width="1.1" stroke-dasharray="2.6 1.5"/>
<line x1="614.00" y1="594.00" x2="614.00" y2="591.36" stroke="#983c98" stroke-width="1.1" stroke-dasharray="2.6 1.5"/>
<line x1="614.00" y1="594.00" x2="614.00" y2="608.10" stroke="#c3bd12" stroke-width="1.1" stroke-dasharray="2.6 1.5"/>
<circle cx="400.43" cy="753.46" r="2.6" fill="#2fb4bf" fill-opacity="0.8"/>
<circle cx="400.43" cy="753.02" r="2.6" fill="#983c98" fill-opacity="0.8"/>
<circle cx="400.43" cy="758.39" r="2.6" fill="#c3bd12" fill-opacity="0.8"/>
<circle cx="447.89" cy="709.94" r="2.6" fill="#983c98" fill-opacity="0.8"/>
<circle cx="447.89" cy="714.70" r="2.6" fill="#2fb4bf" fill-opacity="0.8"/>
<circle cx="447.89" cy="722.63" r="2.6" fill="#c3bd12" fill-opacity="0.8"/>
<circle cx="495.35" cy="672.41" r="2.6" fill="#2fb4bf" fill-opacity="0.8"/>
<circle cx="495.35" cy="671.53" r="2.6" fill="#983c98" fill-opacity="0.8"/>
<circle cx="495.35" cy="690.91" r="2.6" fill="#c3bd12" fill-opacity="0.8"/>
<circle cx="566.54" cy="614.26" r="2.6" fill="#2fb4bf" fill-opacity="0.8"/>
<circle cx="566.54" cy="638.49" r="2.6" fill="#983c98" fill-opacity="0.8"/>
<circle cx="566.54" cy="639.37" r="2.6" fill="#c3bd12" fill-opacity="0.8"/>
<circle cx="614.00" cy="579.38" r="2.6" fill="#2fb4bf" fill-opacity="0.8"/>
<circle cx="614.00" cy="591.36" r="2.6" fill="#983c98" fill-opacity="0.8"/>
<circle cx="614.00" cy="608.10" r="2.6" fill="#c3bd12" fill-opacity="0.8"/>
<line x1="376.60" y1="770.20" x2="648.70" y2="567.60" stroke="#6a6a6a" stroke-width="1.75" stroke-dasharray="4.9 2.6"/>
<text x="561.60" y="578.40" font-size="8.75" fill="#2fb4bf" stroke="#2fb4bf" stroke-width="0.2">15 µM (7%)</text>
<text x="566.00" y="593.60" font-size="8.75" fill="#983c98" stroke="#983c98" stroke-width="0.2">1 µM (0%)</text>
<text x="620.00" y="612.00" font-size="8.75" fill="#c3bd12" stroke="#c3bd12" stroke-width="0.2">16 µM (8%)</text>
<text x="523.60" y="609.00" font-size="8.75" fill="#2fb4bf" stroke="#2fb4bf" stroke-width="0.2">15 µM (9%)</text>
<text x="574.70" y="638.20" font-size="8.75" fill="#983c98" stroke="#983c98" stroke-width="0.2">11 µM (7%)</text>
<text x="566.50" y="651.10" font-size="8.75" fill="#c3bd12" stroke="#c3bd12" stroke-width="0.2">12 µM (8%)</text>
<text x="467.60" y="666.60" font-size="8.75" fill="#2fb4bf" stroke="#2fb4bf" stroke-width="0.2">11 µM (11%)</text>
<text x="441.10" y="679.10" font-size="8.75" fill="#983c98" stroke="#983c98" stroke-width="0.2">10 µM (10%)</text>
<text x="500.30" y="695.80" font-size="8.75" fill="#c3bd12" stroke="#c3bd12" stroke-width="0.2">10 µM (10%)</text>
<text x="411.20" y="704.50" font-size="8.75" fill="#983c98" stroke="#983c98" stroke-width="0.2">7 µM (13%)</text>
<text x="458.90" y="717.70" font-size="8.75" fill="#2fb4bf" stroke="#2fb4bf" stroke-width="0.2">2 µM (4%)</text>
<text x="452.40" y="728.20" font-size="8.75" fill="#c3bd12" stroke="#c3bd12" stroke-width="0.2">6 µM (10%)</text>
<text x="370.70" y="737.40" font-size="8.75" fill="#983c98" stroke="#983c98" stroke-width="0.2">0 µM (3%)</text>
<text x="411.60" y="752.70" font-size="8.75" fill="#2fb4bf" stroke="#2fb4bf" stroke-width="0.2">1 µM (6%)</text>
<text x="405.30" y="763.90" font-size="8.75" fill="#c3bd12" stroke="#c3bd12" stroke-width="0.2">6 µM (31%)</text>
</svg>
</body></html>
